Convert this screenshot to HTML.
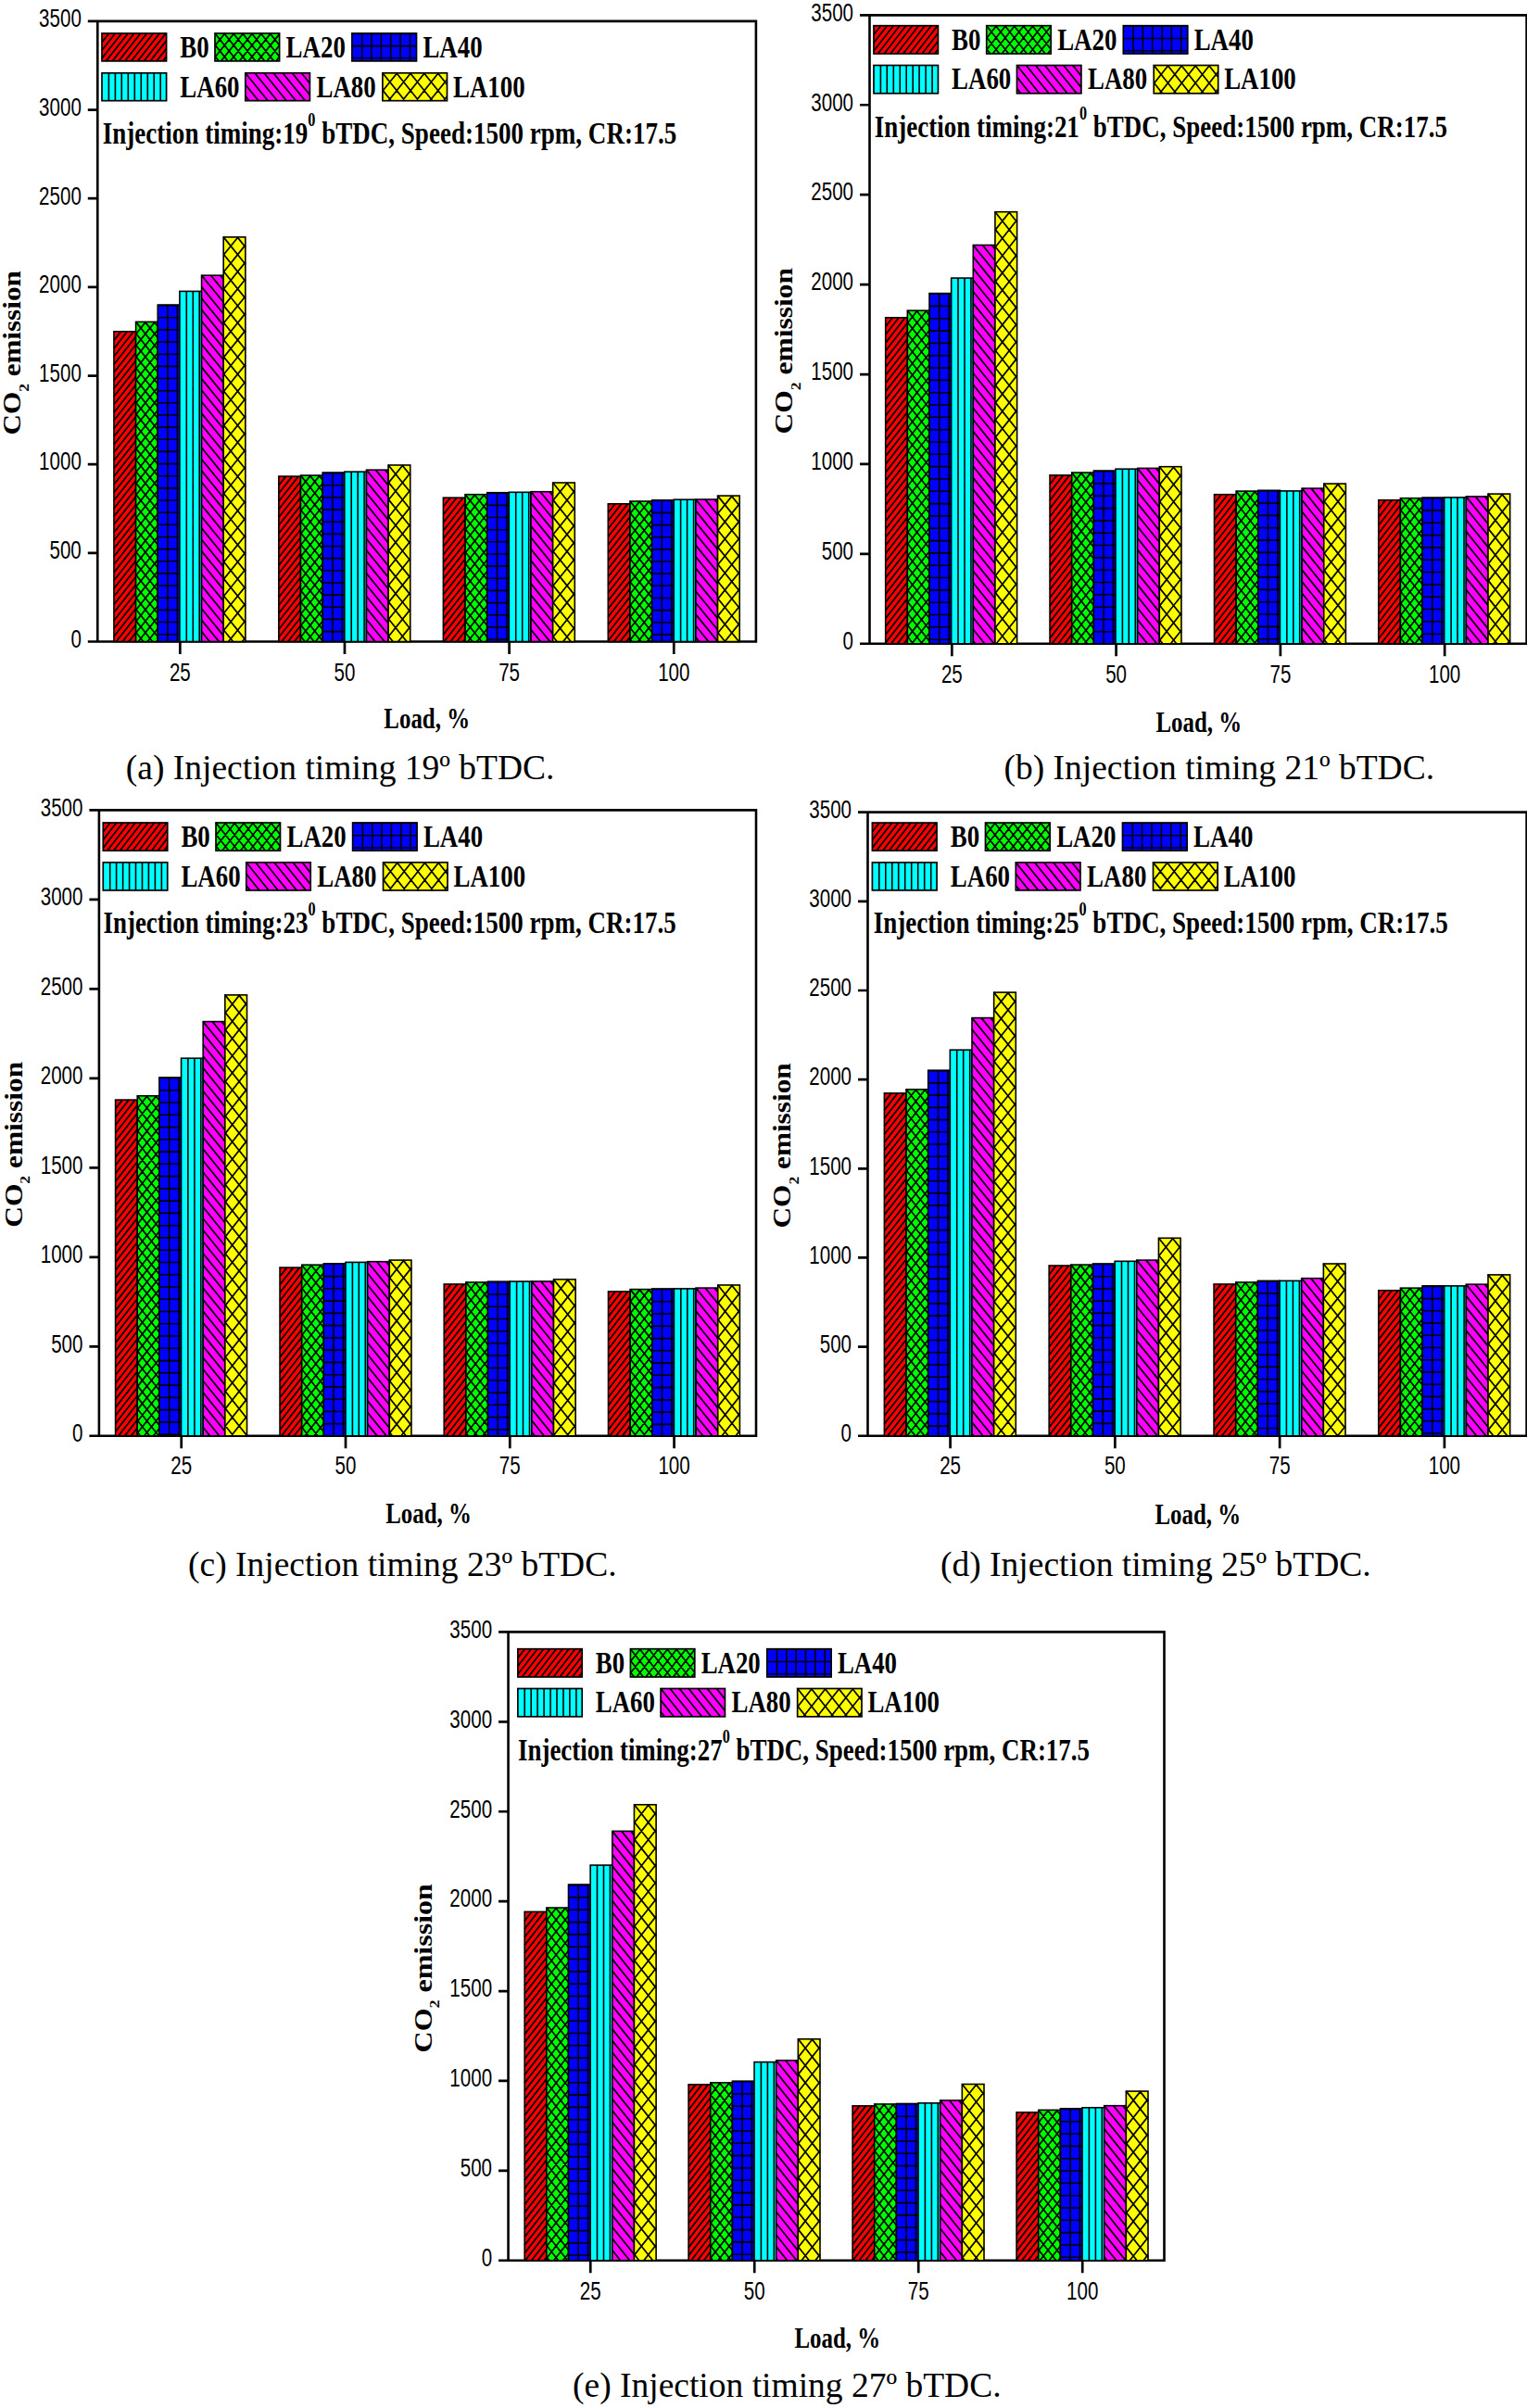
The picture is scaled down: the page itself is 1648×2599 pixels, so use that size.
<!DOCTYPE html>
<html lang="en">
<head>
<meta charset="utf-8">
<title>CO2 emission vs load at different injection timings</title>
<style>
html,body{margin:0;padding:0;background:#fff;}
body{width:1648px;height:2599px;overflow:hidden;}
svg{display:block;}
text{fill:#000;}
.tk{font-family:"Liberation Sans",sans-serif;font-weight:normal;}
.sb{font-family:"Liberation Serif",serif;font-weight:bold;}
.cp{font-family:"Liberation Serif",serif;font-weight:normal;}
.m{text-anchor:middle;}
.e{text-anchor:end;}
</style>
</head>
<body>
<svg width="1648" height="2599" viewBox="0 0 1648 2599">
<rect width="1648" height="2599" fill="#fff"/>
<g id="panel-a">
<path d="M94.8,22.9 H815.9 V692.5 H94.8 M105.3,21.6 V693.8" fill="none" stroke="#000" stroke-width="2.6"/>
<text class="tk e" transform="translate(87.8,698.8) scale(0.721,1)" font-size="28.5">0</text>
<text class="tk e" transform="translate(87.8,603.14) scale(0.721,1)" font-size="28.5">500</text>
<text class="tk e" transform="translate(87.8,507.49) scale(0.721,1)" font-size="28.5">1000</text>
<text class="tk e" transform="translate(87.8,411.83) scale(0.721,1)" font-size="28.5">1500</text>
<text class="tk e" transform="translate(87.8,316.17) scale(0.721,1)" font-size="28.5">2000</text>
<text class="tk e" transform="translate(87.8,220.51) scale(0.721,1)" font-size="28.5">2500</text>
<text class="tk e" transform="translate(87.8,124.86) scale(0.721,1)" font-size="28.5">3000</text>
<text class="tk e" transform="translate(87.8,29.2) scale(0.721,1)" font-size="28.5">3500</text>
<text class="tk m" transform="translate(194.32,735) scale(0.721,1)" font-size="28.5">25</text>
<text class="tk m" transform="translate(371.98,735) scale(0.721,1)" font-size="28.5">50</text>
<text class="tk m" transform="translate(549.62,735) scale(0.721,1)" font-size="28.5">75</text>
<text class="tk m" transform="translate(727.27,735) scale(0.721,1)" font-size="28.5">100</text>
<path d="M94.8,596.84 H105.3 M94.8,501.19 H105.3 M94.8,405.53 H105.3 M94.8,309.87 H105.3 M94.8,214.21 H105.3 M94.8,118.56 H105.3 M194.32,692.5 V705.9 M371.98,692.5 V705.9 M549.62,692.5 V705.9 M727.27,692.5 V705.9" fill="none" stroke="#000" stroke-width="2.7"/>
<rect x="122.95" y="357.8" width="23.65" height="334.7" fill="#ff0000"/><path d="M123,358.8L123.7,357.8M123,367.4L130.6,357.8M123,376.1L137.4,357.8M123,384.7L144.2,357.8M123,393.3L146.6,363.4M123,402L146.6,372M123,410.6L146.6,380.7M123,419.3L146.6,389.3M123,427.9L146.6,397.9M123,436.5L146.6,406.6M123,445.2L146.6,415.2M123,453.8L146.6,423.8M123,462.4L146.6,432.5M123,471.1L146.6,441.1M123,479.7L146.6,449.8M123,488.3L146.6,458.4M123,497L146.6,467M123,505.6L146.6,475.7M123,514.2L146.6,484.3M123,522.9L146.6,492.9M123,531.5L146.6,501.6M123,540.1L146.6,510.2M123,548.8L146.6,518.8M123,557.4L146.6,527.5M123,566L146.6,536.1M123,574.7L146.6,544.7M123,583.3L146.6,553.4M123,592L146.6,562M123,600.6L146.6,570.6M123,609.2L146.6,579.3M123,617.9L146.6,587.9M123,626.5L146.6,596.5M123,635.1L146.6,605.2M123,643.8L146.6,613.8M123,652.4L146.6,622.5M123,661L146.6,631.1M123,669.7L146.6,639.7M123,678.3L146.6,648.4M123,686.9L146.6,657M125.4,692.5L146.6,665.6M132.2,692.5L146.6,674.3M139,692.5L146.6,682.9M145.8,692.5L146.6,691.5" stroke="#000" stroke-width="1.8" fill="none"/><rect x="122.95" y="357.8" width="23.65" height="334.7" fill="none" stroke="#000" stroke-width="1.6"/>
<rect x="146.6" y="347.4" width="23.65" height="345.1" fill="#00ff00"/><path d="M146.6,348.4L147.4,347.4M146.6,360.8L157.3,347.4M146.6,373.2L167.2,347.4M146.6,385.6L170.3,356M146.6,398L170.3,368.4M146.6,410.4L170.3,380.8M146.6,422.8L170.3,393.2M146.6,435.2L170.3,405.6M146.6,447.6L170.3,418M146.6,460L170.3,430.4M146.6,472.5L170.3,442.8M146.6,484.9L170.3,455.2M146.6,497.3L170.3,467.6M146.6,509.7L170.3,480M146.6,522.1L170.3,492.4M146.6,534.5L170.3,504.8M146.6,546.9L170.3,517.2M146.6,559.3L170.3,529.7M146.6,571.7L170.3,542.1M146.6,584.1L170.3,554.5M146.6,596.5L170.3,566.9M146.6,608.9L170.3,579.3M146.6,621.3L170.3,591.7M146.6,633.7L170.3,604.1M146.6,646.1L170.3,616.5M146.6,658.5L170.3,628.9M146.6,670.9L170.3,641.3M146.6,683.3L170.3,653.7M149.2,692.5L170.3,666.1M159.1,692.5L170.3,678.5M169,692.5L170.3,690.9M166.4,347.4L170.3,352.2M156.5,347.4L170.3,364.6M146.6,347.4L170.3,377M146.6,359.8L170.3,389.4M146.6,372.2L170.3,401.8M146.6,384.6L170.3,414.2M146.6,397L170.3,426.7M146.6,409.4L170.3,439.1M146.6,421.8L170.3,451.5M146.6,434.2L170.3,463.9M146.6,446.6L170.3,476.3M146.6,459L170.3,488.7M146.6,471.4L170.3,501.1M146.6,483.9L170.3,513.5M146.6,496.3L170.3,525.9M146.6,508.7L170.3,538.3M146.6,521.1L170.3,550.7M146.6,533.5L170.3,563.1M146.6,545.9L170.3,575.5M146.6,558.3L170.3,587.9M146.6,570.7L170.3,600.3M146.6,583.1L170.3,612.7M146.6,595.5L170.3,625.1M146.6,607.9L170.3,637.5M146.6,620.3L170.3,649.9M146.6,632.7L170.3,662.3M146.6,645.1L170.3,674.8M146.6,657.5L170.3,687.2M146.6,669.9L164.6,692.5M146.6,682.3L154.7,692.5" stroke="#000" stroke-width="1.7" fill="none"/><rect x="146.6" y="347.4" width="23.65" height="345.1" fill="none" stroke="#000" stroke-width="1.6"/>
<rect x="170.25" y="329.1" width="23.65" height="363.4" fill="#0000ff"/><path d="M181,329.1V692.5M191.4,329.1V692.5M170.2,329.6H193.9M170.2,342.8H193.9M170.2,355.9H193.9M170.2,369.1H193.9M170.2,382.2H193.9M170.2,395.4H193.9M170.2,408.5H193.9M170.2,421.7H193.9M170.2,434.8H193.9M170.2,448H193.9M170.2,461.1H193.9M170.2,474.2H193.9M170.2,487.4H193.9M170.2,500.6H193.9M170.2,513.7H193.9M170.2,526.9H193.9M170.2,540H193.9M170.2,553.2H193.9M170.2,566.3H193.9M170.2,579.5H193.9M170.2,592.6H193.9M170.2,605.8H193.9M170.2,618.9H193.9M170.2,632H193.9M170.2,645.2H193.9M170.2,658.4H193.9M170.2,671.5H193.9M170.2,684.7H193.9" stroke="#000" stroke-width="1.6" fill="none"/><rect x="170.25" y="329.1" width="23.65" height="363.4" fill="none" stroke="#000" stroke-width="1.6"/>
<rect x="193.9" y="314.4" width="23.65" height="378.1" fill="#00ffff"/><path d="M201.3,314.4V692.5M208.3,314.4V692.5M215.2,314.4V692.5" stroke="#000" stroke-width="1.6" fill="none"/><rect x="193.9" y="314.4" width="23.65" height="378.1" fill="none" stroke="#000" stroke-width="1.6"/>
<rect x="217.55" y="297.2" width="23.65" height="395.3" fill="#ff00ff"/><path d="M237.7,297.2L241.2,301.5M227.6,297.2L241.2,313.9M217.6,297.2L241.2,326.3M217.6,309.6L241.2,338.7M217.6,322L241.2,351.1M217.6,334.4L241.2,363.5M217.6,346.8L241.2,375.9M217.6,359.2L241.2,388.3M217.6,371.6L241.2,400.7M217.6,384L241.2,413.1M217.6,396.4L241.2,425.6M217.6,408.9L241.2,438M217.6,421.3L241.2,450.4M217.6,433.7L241.2,462.8M217.6,446.1L241.2,475.2M217.6,458.5L241.2,487.6M217.6,470.9L241.2,500M217.6,483.3L241.2,512.4M217.6,495.7L241.2,524.8M217.6,508.1L241.2,537.2M217.6,520.5L241.2,549.6M217.6,532.9L241.2,562M217.6,545.3L241.2,574.4M217.6,557.7L241.2,586.8M217.6,570.1L241.2,599.2M217.6,582.5L241.2,611.6M217.6,594.9L241.2,624M217.6,607.3L241.2,636.4M217.6,619.7L241.2,648.8M217.6,632.1L241.2,661.2M217.6,644.5L241.2,673.7M217.6,657L241.2,686.1M217.6,669.4L236.4,692.5M217.6,681.8L226.3,692.5" stroke="#000" stroke-width="1.8" fill="none"/><rect x="217.55" y="297.2" width="23.65" height="395.3" fill="none" stroke="#000" stroke-width="1.6"/>
<rect x="241.2" y="255.9" width="23.65" height="436.6" fill="#ffff00"/><path d="M241.2,256.9L242,255.9M241.2,275.3L256.9,255.9M241.2,293.7L264.9,264.4M241.2,312.2L264.9,282.9M241.2,330.6L264.9,301.3M241.2,349L264.9,319.7M241.2,367.4L264.9,338.1M241.2,385.9L264.9,356.6M241.2,404.3L264.9,375M241.2,422.7L264.9,393.4M241.2,441.1L264.9,411.8M241.2,459.6L264.9,430.3M241.2,478L264.9,448.7M241.2,496.4L264.9,467.1M241.2,514.8L264.9,485.5M241.2,533.3L264.9,504M241.2,551.7L264.9,522.4M241.2,570.1L264.9,540.8M241.2,588.5L264.9,559.2M241.2,607L264.9,577.7M241.2,625.4L264.9,596.1M241.2,643.8L264.9,614.5M241.2,662.2L264.9,632.9M241.2,680.7L264.9,651.4M246.5,692.5L264.9,669.8M261.4,692.5L264.9,688.2M256.1,255.9L264.9,266.8M241.2,255.9L264.9,285.2M241.2,274.3L264.9,303.6M241.2,292.8L264.9,322.1M241.2,311.2L264.9,340.5M241.2,329.6L264.9,358.9M241.2,348L264.9,377.3M241.2,366.5L264.9,395.8M241.2,384.9L264.9,414.2M241.2,403.3L264.9,432.6M241.2,421.7L264.9,451M241.2,440.2L264.9,469.5M241.2,458.6L264.9,487.9M241.2,477L264.9,506.3M241.2,495.4L264.9,524.7M241.2,513.9L264.9,543.2M241.2,532.3L264.9,561.6M241.2,550.7L264.9,580M241.2,569.1L264.9,598.4M241.2,587.6L264.9,616.9M241.2,606L264.9,635.3M241.2,624.4L264.9,653.7M241.2,642.8L264.9,672.1M241.2,661.3L264.9,690.6M241.2,679.7L251.5,692.5" stroke="#000" stroke-width="1.7" fill="none"/><rect x="241.2" y="255.9" width="23.65" height="436.6" fill="none" stroke="#000" stroke-width="1.6"/>
<rect x="300.85" y="514.1" width="23.65" height="178.4" fill="#ff0000"/><path d="M300.9,515.1L301.6,514.1M300.9,523.7L308.5,514.1M300.9,532.4L315.3,514.1M300.9,541L322.1,514.1M300.9,549.6L324.5,519.7M300.9,558.3L324.5,528.3M300.9,566.9L324.5,537M300.9,575.6L324.5,545.6M300.9,584.2L324.5,554.2M300.9,592.8L324.5,562.9M300.9,601.5L324.5,571.5M300.9,610.1L324.5,580.1M300.9,618.7L324.5,588.8M300.9,627.4L324.5,597.4M300.9,636L324.5,606.1M300.9,644.6L324.5,614.7M300.9,653.3L324.5,623.3M300.9,661.9L324.5,632M300.9,670.5L324.5,640.6M300.9,679.2L324.5,649.2M300.9,687.8L324.5,657.9M304,692.5L324.5,666.5M310.8,692.5L324.5,675.1M317.6,692.5L324.5,683.8M324.4,692.5L324.5,692.4" stroke="#000" stroke-width="1.8" fill="none"/><rect x="300.85" y="514.1" width="23.65" height="178.4" fill="none" stroke="#000" stroke-width="1.6"/>
<rect x="324.5" y="513.1" width="23.65" height="179.4" fill="#00ff00"/><path d="M324.5,514.1L325.3,513.1M324.5,526.5L335.2,513.1M324.5,538.9L345.1,513.1M324.5,551.3L348.1,521.7M324.5,563.7L348.1,534.1M324.5,576.1L348.1,546.5M324.5,588.5L348.1,558.9M324.5,600.9L348.1,571.3M324.5,613.3L348.1,583.7M324.5,625.7L348.1,596.1M324.5,638.2L348.1,608.5M324.5,650.6L348.1,620.9M324.5,663L348.1,633.3M324.5,675.4L348.1,645.7M324.5,687.8L348.1,658.1M330.6,692.5L348.1,670.5M340.5,692.5L348.1,682.9M344.3,513.1L348.1,517.9M334.4,513.1L348.1,530.3M324.5,513.1L348.1,542.7M324.5,525.5L348.1,555.1M324.5,537.9L348.1,567.5M324.5,550.3L348.1,579.9M324.5,562.7L348.1,592.4M324.5,575.1L348.1,604.8M324.5,587.5L348.1,617.2M324.5,599.9L348.1,629.6M324.5,612.3L348.1,642M324.5,624.7L348.1,654.4M324.5,637.1L348.1,666.8M324.5,649.6L348.1,679.2M324.5,662L348.1,691.6M324.5,674.4L339,692.5M324.5,686.8L329.1,692.5" stroke="#000" stroke-width="1.7" fill="none"/><rect x="324.5" y="513.1" width="23.65" height="179.4" fill="none" stroke="#000" stroke-width="1.6"/>
<rect x="348.15" y="510.1" width="23.65" height="182.4" fill="#0000ff"/><path d="M358.9,510.1V692.5M369.3,510.1V692.5M348.2,510.6H371.8M348.2,523.8H371.8M348.2,536.9H371.8M348.2,550.1H371.8M348.2,563.2H371.8M348.2,576.4H371.8M348.2,589.5H371.8M348.2,602.6H371.8M348.2,615.8H371.8M348.2,629H371.8M348.2,642.1H371.8M348.2,655.2H371.8M348.2,668.4H371.8M348.2,681.6H371.8" stroke="#000" stroke-width="1.6" fill="none"/><rect x="348.15" y="510.1" width="23.65" height="182.4" fill="none" stroke="#000" stroke-width="1.6"/>
<rect x="371.8" y="509.2" width="23.65" height="183.3" fill="#00ffff"/><path d="M379.2,509.2V692.5M386.2,509.2V692.5M393.1,509.2V692.5" stroke="#000" stroke-width="1.6" fill="none"/><rect x="371.8" y="509.2" width="23.65" height="183.3" fill="none" stroke="#000" stroke-width="1.6"/>
<rect x="395.45" y="507.2" width="23.65" height="185.3" fill="#ff00ff"/><path d="M415.6,507.2L419.1,511.5M405.5,507.2L419.1,523.9M395.5,507.2L419.1,536.3M395.5,519.6L419.1,548.7M395.5,532L419.1,561.1M395.5,544.4L419.1,573.5M395.5,556.8L419.1,585.9M395.5,569.2L419.1,598.3M395.5,581.6L419.1,610.7M395.5,594L419.1,623.1M395.5,606.4L419.1,635.6M395.5,618.9L419.1,648M395.5,631.3L419.1,660.4M395.5,643.7L419.1,672.8M395.5,656.1L419.1,685.2M395.5,668.5L415,692.5M395.5,680.9L404.9,692.5" stroke="#000" stroke-width="1.8" fill="none"/><rect x="395.45" y="507.2" width="23.65" height="185.3" fill="none" stroke="#000" stroke-width="1.6"/>
<rect x="419.1" y="502" width="23.65" height="190.5" fill="#ffff00"/><path d="M419.1,503L419.9,502M419.1,521.4L434.8,502M419.1,539.8L442.8,510.5M419.1,558.3L442.8,529M419.1,576.7L442.8,547.4M419.1,595.1L442.8,565.8M419.1,613.5L442.8,584.2M419.1,632L442.8,602.7M419.1,650.4L442.8,621.1M419.1,668.8L442.8,639.5M419.1,687.2L442.8,657.9M429.7,692.5L442.8,676.4M434,502L442.8,512.9M419.1,502L442.8,531.3M419.1,520.4L442.8,549.7M419.1,538.9L442.8,568.2M419.1,557.3L442.8,586.6M419.1,575.7L442.8,605M419.1,594.1L442.8,623.4M419.1,612.6L442.8,641.9M419.1,631L442.8,660.3M419.1,649.4L442.8,678.7M419.1,667.8L439,692.5M419.1,686.3L424.1,692.5" stroke="#000" stroke-width="1.7" fill="none"/><rect x="419.1" y="502" width="23.65" height="190.5" fill="none" stroke="#000" stroke-width="1.6"/>
<rect x="478.4" y="537.2" width="23.65" height="155.3" fill="#ff0000"/><path d="M478.4,538.2L479.2,537.2M478.4,546.8L486,537.2M478.4,555.5L492.8,537.2M478.4,564.1L499.7,537.2M478.4,572.7L502.1,542.8M478.4,581.4L502.1,551.4M478.4,590L502.1,560.1M478.4,598.7L502.1,568.7M478.4,607.3L502.1,577.3M478.4,615.9L502.1,586M478.4,624.6L502.1,594.6M478.4,633.2L502.1,603.2M478.4,641.8L502.1,611.9M478.4,650.5L502.1,620.5M478.4,659.1L502.1,629.2M478.4,667.7L502.1,637.8M478.4,676.4L502.1,646.4M478.4,685L502.1,655.1M479.3,692.5L502.1,663.7M486.1,692.5L502.1,672.3M492.9,692.5L502.1,681M499.8,692.5L502.1,689.6" stroke="#000" stroke-width="1.8" fill="none"/><rect x="478.4" y="537.2" width="23.65" height="155.3" fill="none" stroke="#000" stroke-width="1.6"/>
<rect x="502.05" y="533.7" width="23.65" height="158.8" fill="#00ff00"/><path d="M502.1,534.7L502.8,533.7M502.1,547.1L512.7,533.7M502.1,559.5L522.6,533.7M502.1,571.9L525.7,542.3M502.1,584.3L525.7,554.7M502.1,596.7L525.7,567.1M502.1,609.1L525.7,579.5M502.1,621.5L525.7,591.9M502.1,633.9L525.7,604.3M502.1,646.3L525.7,616.7M502.1,658.8L525.7,629.1M502.1,671.2L525.7,641.5M502.1,683.6L525.7,653.9M504.8,692.5L525.7,666.3M514.7,692.5L525.7,678.7M524.6,692.5L525.7,691.1M521.9,533.7L525.7,538.5M512,533.7L525.7,550.9M502.1,533.7L525.7,563.3M502.1,546.1L525.7,575.7M502.1,558.5L525.7,588.1M502.1,570.9L525.7,600.5M502.1,583.3L525.7,613M502.1,595.7L525.7,625.4M502.1,608.1L525.7,637.8M502.1,620.5L525.7,650.2M502.1,632.9L525.7,662.6M502.1,645.3L525.7,675M502.1,657.7L525.7,687.4M502.1,670.2L519.9,692.5M502.1,682.6L510,692.5" stroke="#000" stroke-width="1.7" fill="none"/><rect x="502.05" y="533.7" width="23.65" height="158.8" fill="none" stroke="#000" stroke-width="1.6"/>
<rect x="525.7" y="531.7" width="23.65" height="160.8" fill="#0000ff"/><path d="M536.5,531.7V692.5M546.8,531.7V692.5M525.7,532.2H549.4M525.7,545.4H549.4M525.7,558.5H549.4M525.7,571.7H549.4M525.7,584.8H549.4M525.7,598H549.4M525.7,611.1H549.4M525.7,624.2H549.4M525.7,637.4H549.4M525.7,650.6H549.4M525.7,663.7H549.4M525.7,676.9H549.4M525.7,690H549.4" stroke="#000" stroke-width="1.6" fill="none"/><rect x="525.7" y="531.7" width="23.65" height="160.8" fill="none" stroke="#000" stroke-width="1.6"/>
<rect x="549.35" y="531.3" width="23.65" height="161.2" fill="#00ffff"/><path d="M556.7,531.3V692.5M563.7,531.3V692.5M570.7,531.3V692.5" stroke="#000" stroke-width="1.6" fill="none"/><rect x="549.35" y="531.3" width="23.65" height="161.2" fill="none" stroke="#000" stroke-width="1.6"/>
<rect x="573" y="530.7" width="23.65" height="161.8" fill="#ff00ff"/><path d="M593.2,530.7L596.6,535M583.1,530.7L596.6,547.4M573,530.7L596.6,559.8M573,543.1L596.6,572.2M573,555.5L596.6,584.6M573,567.9L596.6,597M573,580.3L596.6,609.4M573,592.7L596.6,621.8M573,605.1L596.6,634.2M573,617.5L596.6,646.6M573,629.9L596.6,659.1M573,642.4L596.6,671.5M573,654.8L596.6,683.9M573,667.2L593.6,692.5M573,679.6L583.5,692.5M573,692L573.4,692.5" stroke="#000" stroke-width="1.8" fill="none"/><rect x="573" y="530.7" width="23.65" height="161.8" fill="none" stroke="#000" stroke-width="1.6"/>
<rect x="596.65" y="521" width="23.65" height="171.5" fill="#ffff00"/><path d="M596.7,522L597.5,521M596.7,540.4L612.3,521M596.7,558.8L620.3,529.5M596.7,577.3L620.3,548M596.7,595.7L620.3,566.4M596.7,614.1L620.3,584.8M596.7,632.5L620.3,603.2M596.7,651L620.3,621.7M596.7,669.4L620.3,640.1M596.7,687.8L620.3,658.5M607.7,692.5L620.3,676.9M611.5,521L620.3,531.9M596.7,521L620.3,550.3M596.7,539.4L620.3,568.7M596.7,557.9L620.3,587.2M596.7,576.3L620.3,605.6M596.7,594.7L620.3,624M596.7,613.1L620.3,642.4M596.7,631.6L620.3,660.9M596.7,650L620.3,679.3M596.7,668.4L616.1,692.5M596.7,686.8L601.2,692.5" stroke="#000" stroke-width="1.7" fill="none"/><rect x="596.65" y="521" width="23.65" height="171.5" fill="none" stroke="#000" stroke-width="1.6"/>
<rect x="656.3" y="543.8" width="23.65" height="148.7" fill="#ff0000"/><path d="M656.3,544.8L657.1,543.8M656.3,553.4L663.9,543.8M656.3,562.1L670.7,543.8M656.3,570.7L677.6,543.8M656.3,579.3L679.9,549.4M656.3,588L679.9,558M656.3,596.6L679.9,566.7M656.3,605.3L679.9,575.3M656.3,613.9L679.9,583.9M656.3,622.5L679.9,592.6M656.3,631.2L679.9,601.2M656.3,639.8L679.9,609.8M656.3,648.4L679.9,618.5M656.3,657.1L679.9,627.1M656.3,665.7L679.9,635.8M656.3,674.3L679.9,644.4M656.3,683L679.9,653M656.3,691.6L679.9,661.7M662.4,692.5L679.9,670.3M669.2,692.5L679.9,678.9M676.1,692.5L679.9,687.6" stroke="#000" stroke-width="1.8" fill="none"/><rect x="656.3" y="543.8" width="23.65" height="148.7" fill="none" stroke="#000" stroke-width="1.6"/>
<rect x="679.95" y="541" width="23.65" height="151.5" fill="#00ff00"/><path d="M679.9,542L680.7,541M679.9,554.4L690.6,541M679.9,566.8L700.5,541M679.9,579.2L703.6,549.6M679.9,591.6L703.6,562M679.9,604L703.6,574.4M679.9,616.4L703.6,586.8M679.9,628.8L703.6,599.2M679.9,641.2L703.6,611.6M679.9,653.6L703.6,624M679.9,666.1L703.6,636.4M679.9,678.5L703.6,648.8M679.9,690.9L703.6,661.2M688.5,692.5L703.6,673.6M698.4,692.5L703.6,686M699.8,541L703.6,545.8M689.9,541L703.6,558.2M680,541L703.6,570.6M679.9,553.4L703.6,583M679.9,565.8L703.6,595.4M679.9,578.2L703.6,607.8M679.9,590.6L703.6,620.3M679.9,603L703.6,632.7M679.9,615.4L703.6,645.1M679.9,627.8L703.6,657.5M679.9,640.2L703.6,669.9M679.9,652.6L703.6,682.3M679.9,665L701.9,692.5M679.9,677.5L692,692.5M679.9,689.9L682.1,692.5" stroke="#000" stroke-width="1.7" fill="none"/><rect x="679.95" y="541" width="23.65" height="151.5" fill="none" stroke="#000" stroke-width="1.6"/>
<rect x="703.6" y="539.8" width="23.65" height="152.7" fill="#0000ff"/><path d="M714.4,539.8V692.5M724.7,539.8V692.5M703.6,540.3H727.2M703.6,553.4H727.2M703.6,566.6H727.2M703.6,579.8H727.2M703.6,592.9H727.2M703.6,606H727.2M703.6,619.2H727.2M703.6,632.3H727.2M703.6,645.5H727.2M703.6,658.6H727.2M703.6,671.8H727.2M703.6,684.9H727.2" stroke="#000" stroke-width="1.6" fill="none"/><rect x="703.6" y="539.8" width="23.65" height="152.7" fill="none" stroke="#000" stroke-width="1.6"/>
<rect x="727.25" y="539.2" width="23.65" height="153.3" fill="#00ffff"/><path d="M734.6,539.2V692.5M741.6,539.2V692.5M748.6,539.2V692.5" stroke="#000" stroke-width="1.6" fill="none"/><rect x="727.25" y="539.2" width="23.65" height="153.3" fill="none" stroke="#000" stroke-width="1.6"/>
<rect x="750.9" y="539" width="23.65" height="153.5" fill="#ff00ff"/><path d="M771.1,539L774.5,543.3M761,539L774.5,555.7M750.9,539L774.5,568.1M750.9,551.4L774.5,580.5M750.9,563.8L774.5,592.9M750.9,576.2L774.5,605.3M750.9,588.6L774.5,617.7M750.9,601L774.5,630.1M750.9,613.4L774.5,642.5M750.9,625.8L774.5,654.9M750.9,638.2L774.5,667.4M750.9,650.7L774.5,679.8M750.9,663.1L774.5,692.2M750.9,675.5L764.7,692.5M750.9,687.9L754.7,692.5" stroke="#000" stroke-width="1.8" fill="none"/><rect x="750.9" y="539" width="23.65" height="153.5" fill="none" stroke="#000" stroke-width="1.6"/>
<rect x="774.55" y="535.1" width="23.65" height="157.4" fill="#ffff00"/><path d="M774.5,536.1L775.4,535.1M774.5,554.5L790.2,535.1M774.5,572.9L798.2,543.6M774.5,591.4L798.2,562.1M774.5,609.8L798.2,580.5M774.5,628.2L798.2,598.9M774.5,646.6L798.2,617.3M774.5,665.1L798.2,635.8M774.5,683.5L798.2,654.2M782.2,692.5L798.2,672.6M797,692.5L798.2,691M789.4,535.1L798.2,546M774.5,535.1L798.2,564.4M774.5,553.5L798.2,582.8M774.5,572L798.2,601.3M774.5,590.4L798.2,619.7M774.5,608.8L798.2,638.1M774.5,627.2L798.2,656.5M774.5,645.7L798.2,675M774.5,664.1L797.5,692.5M774.5,682.5L782.6,692.5" stroke="#000" stroke-width="1.7" fill="none"/><rect x="774.55" y="535.1" width="23.65" height="157.4" fill="none" stroke="#000" stroke-width="1.6"/>
<rect x="110" y="36" width="69.6" height="29.9" fill="#ff0000"/><path d="M110,37L110.8,36M110,45.6L117.6,36M110,54.3L124.4,36M110,62.9L131.3,36M114.5,65.9L138.1,36M121.3,65.9L144.9,36M128.1,65.9L151.7,36M134.9,65.9L158.5,36M141.7,65.9L165.4,36M148.6,65.9L172.2,36M155.4,65.9L179,36M162.2,65.9L179.6,43.9M169,65.9L179.6,52.5M175.8,65.9L179.6,61.1" stroke="#000" stroke-width="1.8" fill="none"/><rect x="110" y="36" width="69.6" height="29.9" fill="none" stroke="#000" stroke-width="1.7"/>
<text class="sb" transform="translate(194.3,62.3) scale(0.78,1)" font-size="34.5">B0</text>
<rect x="232" y="36" width="69.6" height="29.9" fill="#00ff00"/><path d="M232,37L232.8,36M232,49.4L242.7,36M232,61.8L252.6,36M238.6,65.9L262.5,36M248.5,65.9L272.4,36M258.4,65.9L282.3,36M268.3,65.9L292.2,36M278.2,65.9L301.6,36.6M288.1,65.9L301.6,49M298,65.9L301.6,61.4M301.3,36L301.6,36.4M291.4,36L301.6,48.8M281.5,36L301.6,61.2M271.6,36L295.5,65.9M261.7,36L285.6,65.9M251.8,36L275.7,65.9M241.9,36L265.8,65.9M232,36L255.9,65.9M232,48.4L246,65.9M232,60.8L236.1,65.9" stroke="#000" stroke-width="1.7" fill="none"/><rect x="232" y="36" width="69.6" height="29.9" fill="none" stroke="#000" stroke-width="1.7"/>
<text class="sb" transform="translate(308.6,62.3) scale(0.78,1)" font-size="34.5">LA20</text>
<rect x="379.9" y="36" width="69.6" height="29.9" fill="#0000ff"/><path d="M390.7,36V65.9M401,36V65.9M411.4,36V65.9M421.7,36V65.9M432.1,36V65.9M442.5,36V65.9M379.9,36.5H449.5M379.9,49.6H449.5M379.9,62.8H449.5" stroke="#000" stroke-width="1.6" fill="none"/><rect x="379.9" y="36" width="69.6" height="29.9" fill="none" stroke="#000" stroke-width="1.7"/>
<text class="sb" transform="translate(456.4,62.3) scale(0.78,1)" font-size="34.5">LA40</text>
<rect x="110" y="78.8" width="69.6" height="29.9" fill="#00ffff"/><path d="M117.4,78.8V108.7M124.4,78.8V108.7M131.3,78.8V108.7M138.3,78.8V108.7M145.3,78.8V108.7M152.3,78.8V108.7M159.3,78.8V108.7M166.2,78.8V108.7M173.2,78.8V108.7" stroke="#000" stroke-width="1.6" fill="none"/><rect x="110" y="78.8" width="69.6" height="29.9" fill="none" stroke="#000" stroke-width="1.7"/>
<text class="sb" transform="translate(194.3,104.6) scale(0.78,1)" font-size="34.5">LA60</text>
<rect x="264.8" y="78.8" width="69.6" height="29.9" fill="#ff00ff"/><path d="M325.3,78.8L334.4,90M315.2,78.8L334.4,102.4M305.1,78.8L329.4,108.7M295,78.8L319.3,108.7M285,78.8L309.2,108.7M274.9,78.8L299.2,108.7M264.8,78.8L289.1,108.7M264.8,91.2L279,108.7M264.8,103.6L268.9,108.7" stroke="#000" stroke-width="1.8" fill="none"/><rect x="264.8" y="78.8" width="69.6" height="29.9" fill="none" stroke="#000" stroke-width="1.7"/>
<text class="sb" transform="translate(341.5,104.6) scale(0.78,1)" font-size="34.5">LA80</text>
<rect x="412.9" y="78.8" width="69.6" height="29.9" fill="#ffff00"/><path d="M412.9,79.8L413.7,78.8M412.9,98.2L428.6,78.8M419.3,108.7L443.4,78.8M434.2,108.7L458.3,78.8M449.1,108.7L473.2,78.8M463.9,108.7L482.5,85.7M478.8,108.7L482.5,104.1M472.4,78.8L482.5,91.3M457.5,78.8L481.6,108.7M442.6,78.8L466.8,108.7M427.8,78.8L451.9,108.7M412.9,78.8L437,108.7M412.9,97.2L422.2,108.7" stroke="#000" stroke-width="1.7" fill="none"/><rect x="412.9" y="78.8" width="69.6" height="29.9" fill="none" stroke="#000" stroke-width="1.7"/>
<text class="sb" transform="translate(489,104.6) scale(0.78,1)" font-size="34.5">LA100</text>
<text class="sb" transform="translate(110.8,154.7) scale(0.784,1)" font-size="34.5">Injection timing:19<tspan font-size="20.7" dy="-18.8">0</tspan><tspan dy="18.8"> bTDC, Speed:1500 rpm, CR:17.5</tspan></text>
<text class="sb m" transform="translate(460.7,786) scale(0.804,1)" font-size="31">Load, %</text>
<text class="sb m" transform="translate(21.9,380.9) rotate(-90) scale(1.001,0.88)" font-size="31.1">CO<tspan font-size="17.42" dy="9.95">2</tspan><tspan dy="-9.95"> emission</tspan></text>
<text class="cp" transform="translate(135.8,841.1)" font-size="37.5">(a) Injection timing 19º bTDC.</text>
</g>
<g id="panel-b">
<path d="M928,16.35 H1647.6 V694.8 H928 M938.5,15.05 V696.1" fill="none" stroke="#000" stroke-width="2.6"/>
<text class="tk e" transform="translate(921,701.1) scale(0.721,1)" font-size="28.5">0</text>
<text class="tk e" transform="translate(921,604.18) scale(0.721,1)" font-size="28.5">500</text>
<text class="tk e" transform="translate(921,507.26) scale(0.721,1)" font-size="28.5">1000</text>
<text class="tk e" transform="translate(921,410.34) scale(0.721,1)" font-size="28.5">1500</text>
<text class="tk e" transform="translate(921,313.41) scale(0.721,1)" font-size="28.5">2000</text>
<text class="tk e" transform="translate(921,216.49) scale(0.721,1)" font-size="28.5">2500</text>
<text class="tk e" transform="translate(921,119.57) scale(0.721,1)" font-size="28.5">3000</text>
<text class="tk e" transform="translate(921,22.65) scale(0.721,1)" font-size="28.5">3500</text>
<text class="tk m" transform="translate(1027.34,736.5) scale(0.721,1)" font-size="28.5">25</text>
<text class="tk m" transform="translate(1204.61,736.5) scale(0.721,1)" font-size="28.5">50</text>
<text class="tk m" transform="translate(1381.89,736.5) scale(0.721,1)" font-size="28.5">75</text>
<text class="tk m" transform="translate(1559.16,736.5) scale(0.721,1)" font-size="28.5">100</text>
<path d="M928,597.88 H938.5 M928,500.96 H938.5 M928,404.04 H938.5 M928,307.11 H938.5 M928,210.19 H938.5 M928,113.27 H938.5 M1027.34,694.8 V708.2 M1204.61,694.8 V708.2 M1381.89,694.8 V708.2 M1559.16,694.8 V708.2" fill="none" stroke="#000" stroke-width="2.7"/>
<rect x="955.7" y="342.8" width="23.65" height="352" fill="#ff0000"/><path d="M955.7,343.8L956.5,342.8M955.7,352.6L963.3,342.8M955.7,361.3L970.1,342.8M955.7,370.1L976.9,342.8M955.7,378.8L979.4,348.4M955.7,387.6L979.4,357.2M955.7,396.3L979.4,365.9M955.7,405.1L979.4,374.7M955.7,413.8L979.4,383.4M955.7,422.6L979.4,392.2M955.7,431.3L979.4,400.9M955.7,440.1L979.4,409.7M955.7,448.8L979.4,418.4M955.7,457.6L979.4,427.1M955.7,466.3L979.4,435.9M955.7,475.1L979.4,444.6M955.7,483.8L979.4,453.4M955.7,492.5L979.4,462.1M955.7,501.3L979.4,470.9M955.7,510L979.4,479.6M955.7,518.8L979.4,488.4M955.7,527.5L979.4,497.1M955.7,536.3L979.4,505.9M955.7,545L979.4,514.6M955.7,553.8L979.4,523.4M955.7,562.5L979.4,532.1M955.7,571.3L979.4,540.9M955.7,580L979.4,549.6M955.7,588.8L979.4,558.4M955.7,597.5L979.4,567.1M955.7,606.3L979.4,575.9M955.7,615L979.4,584.6M955.7,623.8L979.4,593.4M955.7,632.5L979.4,602.1M955.7,641.3L979.4,610.9M955.7,650L979.4,619.6M955.7,658.8L979.4,628.4M955.7,667.5L979.4,637.1M955.7,676.3L979.4,645.9M955.7,685L979.4,654.6M955.7,693.8L979.4,663.4M961.7,694.8L979.4,672.1M968.5,694.8L979.4,680.9M975.3,694.8L979.4,689.6" stroke="#000" stroke-width="1.8" fill="none"/><rect x="955.7" y="342.8" width="23.65" height="352" fill="none" stroke="#000" stroke-width="1.6"/>
<rect x="979.35" y="335.2" width="23.65" height="359.6" fill="#00ff00"/><path d="M979.4,336.2L980.1,335.2M979.4,348.8L990,335.2M979.4,361.3L999.9,335.2M979.4,373.9L1003,343.8M979.4,386.5L1003,356.4M979.4,399.1L1003,369M979.4,411.6L1003,381.5M979.4,424.2L1003,394.1M979.4,436.8L1003,406.7M979.4,449.3L1003,419.2M979.4,461.9L1003,431.8M979.4,474.5L1003,444.4M979.4,487L1003,456.9M979.4,499.6L1003,469.5M979.4,512.2L1003,482.1M979.4,524.7L1003,494.7M979.4,537.3L1003,507.2M979.4,549.9L1003,519.8M979.4,562.5L1003,532.4M979.4,575L1003,544.9M979.4,587.6L1003,557.5M979.4,600.2L1003,570.1M979.4,612.7L1003,582.6M979.4,625.3L1003,595.2M979.4,637.9L1003,607.8M979.4,650.4L1003,620.3M979.4,663L1003,632.9M979.4,675.6L1003,645.5M979.4,688.1L1003,658.1M984,694.8L1003,670.6M993.9,694.8L1003,683.2M999.1,335.2L1003,340.1M989.2,335.2L1003,352.7M979.4,335.2L1003,365.3M979.4,347.8L1003,377.8M979.4,360.3L1003,390.4M979.4,372.9L1003,403M979.4,385.5L1003,415.6M979.4,398L1003,428.1M979.4,410.6L1003,440.7M979.4,423.2L1003,453.3M979.4,435.7L1003,465.8M979.4,448.3L1003,478.4M979.4,460.9L1003,491M979.4,473.4L1003,503.5M979.4,486L1003,516.1M979.4,498.6L1003,528.7M979.4,511.2L1003,541.2M979.4,523.7L1003,553.8M979.4,536.3L1003,566.4M979.4,548.9L1003,579M979.4,561.4L1003,591.5M979.4,574L1003,604.1M979.4,586.6L1003,616.7M979.4,599.1L1003,629.2M979.4,611.7L1003,641.8M979.4,624.3L1003,654.4M979.4,636.8L1003,666.9M979.4,649.4L1003,679.5M979.4,662L1003,692.1M979.4,674.6L995.3,694.8M979.4,687.1L985.4,694.8" stroke="#000" stroke-width="1.7" fill="none"/><rect x="979.35" y="335.2" width="23.65" height="359.6" fill="none" stroke="#000" stroke-width="1.6"/>
<rect x="1003" y="316.6" width="23.65" height="378.2" fill="#0000ff"/><path d="M1013.7,316.6V694.8M1024.1,316.6V694.8M1003,317.1H1026.7M1003,330.4H1026.7M1003,343.7H1026.7M1003,357.1H1026.7M1003,370.4H1026.7M1003,383.7H1026.7M1003,397H1026.7M1003,410.4H1026.7M1003,423.7H1026.7M1003,437H1026.7M1003,450.3H1026.7M1003,463.7H1026.7M1003,477H1026.7M1003,490.3H1026.7M1003,503.6H1026.7M1003,517H1026.7M1003,530.3H1026.7M1003,543.6H1026.7M1003,556.9H1026.7M1003,570.3H1026.7M1003,583.6H1026.7M1003,596.9H1026.7M1003,610.2H1026.7M1003,623.5H1026.7M1003,636.9H1026.7M1003,650.2H1026.7M1003,663.5H1026.7M1003,676.8H1026.7M1003,690.2H1026.7" stroke="#000" stroke-width="1.6" fill="none"/><rect x="1003" y="316.6" width="23.65" height="378.2" fill="none" stroke="#000" stroke-width="1.6"/>
<rect x="1026.65" y="300.1" width="23.65" height="394.7" fill="#00ffff"/><path d="M1034,300.1V694.8M1041,300.1V694.8M1047.9,300.1V694.8" stroke="#000" stroke-width="1.6" fill="none"/><rect x="1026.65" y="300.1" width="23.65" height="394.7" fill="none" stroke="#000" stroke-width="1.6"/>
<rect x="1050.3" y="264.5" width="23.65" height="430.3" fill="#ff00ff"/><path d="M1070.4,264.5L1074,268.9M1060.4,264.5L1074,281.5M1050.3,264.5L1074,294.1M1050.3,277.1L1074,306.6M1050.3,289.6L1074,319.2M1050.3,302.2L1074,331.8M1050.3,314.8L1074,344.3M1050.3,327.3L1074,356.9M1050.3,339.9L1074,369.5M1050.3,352.5L1074,382M1050.3,365.1L1074,394.6M1050.3,377.6L1074,407.2M1050.3,390.2L1074,419.7M1050.3,402.8L1074,432.3M1050.3,415.3L1074,444.9M1050.3,427.9L1074,457.4M1050.3,440.5L1074,470M1050.3,453L1074,482.6M1050.3,465.6L1074,495.2M1050.3,478.2L1074,507.7M1050.3,490.7L1074,520.3M1050.3,503.3L1074,532.9M1050.3,515.9L1074,545.4M1050.3,528.4L1074,558M1050.3,541L1074,570.6M1050.3,553.6L1074,583.1M1050.3,566.2L1074,595.7M1050.3,578.7L1074,608.3M1050.3,591.3L1074,620.8M1050.3,603.9L1074,633.4M1050.3,616.4L1074,646M1050.3,629L1074,658.6M1050.3,641.6L1074,671.1M1050.3,654.1L1074,683.7M1050.3,666.7L1072.8,694.8M1050.3,679.3L1062.7,694.8M1050.3,691.8L1052.7,694.8" stroke="#000" stroke-width="1.8" fill="none"/><rect x="1050.3" y="264.5" width="23.65" height="430.3" fill="none" stroke="#000" stroke-width="1.6"/>
<rect x="1073.95" y="228.7" width="23.65" height="466.1" fill="#ffff00"/><path d="M1074,229.7L1074.7,228.7M1074,248.4L1089.6,228.7M1074,267L1097.6,237.3M1074,285.7L1097.6,256M1074,304.4L1097.6,274.6M1074,323L1097.6,293.3M1074,341.7L1097.6,312M1074,360.4L1097.6,330.6M1074,379.1L1097.6,349.3M1074,397.7L1097.6,368M1074,416.4L1097.6,386.6M1074,435.1L1097.6,405.3M1074,453.7L1097.6,424M1074,472.4L1097.6,442.6M1074,491.1L1097.6,461.3M1074,509.7L1097.6,480M1074,528.4L1097.6,498.6M1074,547.1L1097.6,517.3M1074,565.7L1097.6,536M1074,584.4L1097.6,554.7M1074,603.1L1097.6,573.3M1074,621.7L1097.6,592M1074,640.4L1097.6,610.7M1074,659.1L1097.6,629.3M1074,677.7L1097.6,648M1075.2,694.8L1097.6,666.7M1090.1,694.8L1097.6,685.3M1088.8,228.7L1097.6,239.8M1074,228.7L1097.6,258.5M1074,247.4L1097.6,277.1M1074,266L1097.6,295.8M1074,284.7L1097.6,314.5M1074,303.4L1097.6,333.1M1074,322L1097.6,351.8M1074,340.7L1097.6,370.5M1074,359.4L1097.6,389.1M1074,378L1097.6,407.8M1074,396.7L1097.6,426.5M1074,415.4L1097.6,445.1M1074,434.1L1097.6,463.8M1074,452.7L1097.6,482.5M1074,471.4L1097.6,501.1M1074,490.1L1097.6,519.8M1074,508.7L1097.6,538.5M1074,527.4L1097.6,557.1M1074,546.1L1097.6,575.8M1074,564.7L1097.6,594.5M1074,583.4L1097.6,613.2M1074,602.1L1097.6,631.8M1074,620.7L1097.6,650.5M1074,639.4L1097.6,669.2M1074,658.1L1097.6,687.8M1074,676.7L1088.3,694.8" stroke="#000" stroke-width="1.7" fill="none"/><rect x="1073.95" y="228.7" width="23.65" height="466.1" fill="none" stroke="#000" stroke-width="1.6"/>
<rect x="1133.05" y="512.9" width="23.65" height="181.9" fill="#ff0000"/><path d="M1133,513.9L1133.8,512.9M1133,522.7L1140.6,512.9M1133,531.4L1147.5,512.9M1133,540.2L1154.3,512.9M1133,548.9L1156.7,518.5M1133,557.7L1156.7,527.3M1133,566.4L1156.7,536M1133,575.2L1156.7,544.8M1133,583.9L1156.7,553.5M1133,592.7L1156.7,562.3M1133,601.4L1156.7,571M1133,610.2L1156.7,579.8M1133,618.9L1156.7,588.5M1133,627.7L1156.7,597.2M1133,636.4L1156.7,606M1133,645.2L1156.7,614.7M1133,653.9L1156.7,623.5M1133,662.6L1156.7,632.2M1133,671.4L1156.7,641M1133,680.1L1156.7,649.7M1133,688.9L1156.7,658.5M1135.3,694.8L1156.7,667.2M1142.1,694.8L1156.7,676M1148.9,694.8L1156.7,684.7M1155.7,694.8L1156.7,693.5" stroke="#000" stroke-width="1.8" fill="none"/><rect x="1133.05" y="512.9" width="23.65" height="181.9" fill="none" stroke="#000" stroke-width="1.6"/>
<rect x="1156.7" y="510.1" width="23.65" height="184.7" fill="#00ff00"/><path d="M1156.7,511.1L1157.5,510.1M1156.7,523.7L1167.4,510.1M1156.7,536.2L1177.3,510.1M1156.7,548.8L1180.4,518.7M1156.7,561.4L1180.4,531.3M1156.7,574L1180.4,543.9M1156.7,586.5L1180.4,556.4M1156.7,599.1L1180.4,569M1156.7,611.7L1180.4,581.6M1156.7,624.2L1180.4,594.1M1156.7,636.8L1180.4,606.7M1156.7,649.4L1180.4,619.3M1156.7,661.9L1180.4,631.8M1156.7,674.5L1180.4,644.4M1156.7,687.1L1180.4,657M1160.5,694.8L1180.4,669.6M1170.4,694.8L1180.4,682.1M1180.3,694.8L1180.4,694.7M1176.5,510.1L1180.4,515M1166.6,510.1L1180.4,527.6M1156.7,510.1L1180.4,540.2M1156.7,522.7L1180.4,552.7M1156.7,535.2L1180.4,565.3M1156.7,547.8L1180.4,577.9M1156.7,560.4L1180.4,590.5M1156.7,572.9L1180.4,603M1156.7,585.5L1180.4,615.6M1156.7,598.1L1180.4,628.2M1156.7,610.6L1180.4,640.7M1156.7,623.2L1180.4,653.3M1156.7,635.8L1180.4,665.9M1156.7,648.3L1180.4,678.4M1156.7,660.9L1180.4,691M1156.7,673.5L1173.5,694.8M1156.7,686.1L1163.6,694.8" stroke="#000" stroke-width="1.7" fill="none"/><rect x="1156.7" y="510.1" width="23.65" height="184.7" fill="none" stroke="#000" stroke-width="1.6"/>
<rect x="1180.35" y="508.1" width="23.65" height="186.7" fill="#0000ff"/><path d="M1191.1,508.1V694.8M1201.4,508.1V694.8M1180.3,508.6H1204M1180.3,521.9H1204M1180.3,535.2H1204M1180.3,548.6H1204M1180.3,561.9H1204M1180.3,575.2H1204M1180.3,588.5H1204M1180.3,601.9H1204M1180.3,615.2H1204M1180.3,628.5H1204M1180.3,641.8H1204M1180.3,655.2H1204M1180.3,668.5H1204M1180.3,681.8H1204" stroke="#000" stroke-width="1.6" fill="none"/><rect x="1180.35" y="508.1" width="23.65" height="186.7" fill="none" stroke="#000" stroke-width="1.6"/>
<rect x="1204" y="506.2" width="23.65" height="188.6" fill="#00ffff"/><path d="M1211.4,506.2V694.8M1218.3,506.2V694.8M1225.3,506.2V694.8" stroke="#000" stroke-width="1.6" fill="none"/><rect x="1204" y="506.2" width="23.65" height="188.6" fill="none" stroke="#000" stroke-width="1.6"/>
<rect x="1227.65" y="505.4" width="23.65" height="189.4" fill="#ff00ff"/><path d="M1247.8,505.4L1251.3,509.8M1237.7,505.4L1251.3,522.4M1227.6,505.4L1251.3,535M1227.6,518L1251.3,547.5M1227.6,530.5L1251.3,560.1M1227.6,543.1L1251.3,572.7M1227.6,555.7L1251.3,585.2M1227.6,568.2L1251.3,597.8M1227.6,580.8L1251.3,610.4M1227.6,593.4L1251.3,622.9M1227.6,606L1251.3,635.5M1227.6,618.5L1251.3,648.1M1227.6,631.1L1251.3,660.6M1227.6,643.7L1251.3,673.2M1227.6,656.2L1251.3,685.8M1227.6,668.8L1248.5,694.8M1227.6,681.4L1238.4,694.8M1227.6,693.9L1228.3,694.8" stroke="#000" stroke-width="1.8" fill="none"/><rect x="1227.65" y="505.4" width="23.65" height="189.4" fill="none" stroke="#000" stroke-width="1.6"/>
<rect x="1251.3" y="503.7" width="23.65" height="191.1" fill="#ffff00"/><path d="M1251.3,504.7L1252.1,503.7M1251.3,523.4L1266.9,503.7M1251.3,542L1275,512.3M1251.3,560.7L1275,531M1251.3,579.4L1275,549.6M1251.3,598L1275,568.3M1251.3,616.7L1275,587M1251.3,635.4L1275,605.6M1251.3,654.1L1275,624.3M1251.3,672.7L1275,643M1251.3,691.4L1275,661.6M1263.4,694.8L1275,680.3M1266.1,503.7L1275,514.8M1251.3,503.7L1275,533.5M1251.3,522.4L1275,552.1M1251.3,541L1275,570.8M1251.3,559.7L1275,589.5M1251.3,578.4L1275,608.1M1251.3,597L1275,626.8M1251.3,615.7L1275,645.5M1251.3,634.4L1275,664.1M1251.3,653L1275,682.8M1251.3,671.7L1269.7,694.8M1251.3,690.4L1254.8,694.8" stroke="#000" stroke-width="1.7" fill="none"/><rect x="1251.3" y="503.7" width="23.65" height="191.1" fill="none" stroke="#000" stroke-width="1.6"/>
<rect x="1310.5" y="533.7" width="23.65" height="161.1" fill="#ff0000"/><path d="M1310.5,534.7L1311.3,533.7M1310.5,543.5L1318.1,533.7M1310.5,552.2L1324.9,533.7M1310.5,561L1331.7,533.7M1310.5,569.7L1334.2,539.3M1310.5,578.5L1334.2,548.1M1310.5,587.2L1334.2,556.8M1310.5,596L1334.2,565.6M1310.5,604.7L1334.2,574.3M1310.5,613.5L1334.2,583.1M1310.5,622.2L1334.2,591.8M1310.5,631L1334.2,600.6M1310.5,639.7L1334.2,609.3M1310.5,648.5L1334.2,618M1310.5,657.2L1334.2,626.8M1310.5,666L1334.2,635.5M1310.5,674.7L1334.2,644.3M1310.5,683.4L1334.2,653M1310.5,692.2L1334.2,661.8M1315.3,694.8L1334.2,670.5M1322.1,694.8L1334.2,679.3M1328.9,694.8L1334.2,688" stroke="#000" stroke-width="1.8" fill="none"/><rect x="1310.5" y="533.7" width="23.65" height="161.1" fill="none" stroke="#000" stroke-width="1.6"/>
<rect x="1334.15" y="530.1" width="23.65" height="164.7" fill="#00ff00"/><path d="M1334.2,531.1L1334.9,530.1M1334.2,543.7L1344.8,530.1M1334.2,556.2L1354.7,530.1M1334.2,568.8L1357.8,538.7M1334.2,581.4L1357.8,551.3M1334.2,594L1357.8,563.9M1334.2,606.5L1357.8,576.4M1334.2,619.1L1357.8,589M1334.2,631.7L1357.8,601.6M1334.2,644.2L1357.8,614.1M1334.2,656.8L1357.8,626.7M1334.2,669.4L1357.8,639.3M1334.2,681.9L1357.8,651.8M1334.2,694.5L1357.8,664.4M1343.8,694.8L1357.8,677M1353.7,694.8L1357.8,689.6M1353.9,530.1L1357.8,535M1344,530.1L1357.8,547.6M1334.2,530.1L1357.8,560.2M1334.2,542.7L1357.8,572.7M1334.2,555.2L1357.8,585.3M1334.2,567.8L1357.8,597.9M1334.2,580.4L1357.8,610.5M1334.2,592.9L1357.8,623M1334.2,605.5L1357.8,635.6M1334.2,618.1L1357.8,648.2M1334.2,630.6L1357.8,660.7M1334.2,643.2L1357.8,673.3M1334.2,655.8L1357.8,685.9M1334.2,668.3L1354.9,694.8M1334.2,680.9L1345.1,694.8M1334.2,693.5L1335.2,694.8" stroke="#000" stroke-width="1.7" fill="none"/><rect x="1334.15" y="530.1" width="23.65" height="164.7" fill="none" stroke="#000" stroke-width="1.6"/>
<rect x="1357.8" y="529.3" width="23.65" height="165.5" fill="#0000ff"/><path d="M1368.5,529.3V694.8M1378.9,529.3V694.8M1357.8,529.8H1381.5M1357.8,543.1H1381.5M1357.8,556.4H1381.5M1357.8,569.8H1381.5M1357.8,583.1H1381.5M1357.8,596.4H1381.5M1357.8,609.7H1381.5M1357.8,623.1H1381.5M1357.8,636.4H1381.5M1357.8,649.7H1381.5M1357.8,663H1381.5M1357.8,676.4H1381.5M1357.8,689.7H1381.5" stroke="#000" stroke-width="1.6" fill="none"/><rect x="1357.8" y="529.3" width="23.65" height="165.5" fill="none" stroke="#000" stroke-width="1.6"/>
<rect x="1381.45" y="529.9" width="23.65" height="164.9" fill="#00ffff"/><path d="M1388.8,529.9V694.8M1395.8,529.9V694.8M1402.7,529.9V694.8" stroke="#000" stroke-width="1.6" fill="none"/><rect x="1381.45" y="529.9" width="23.65" height="164.9" fill="none" stroke="#000" stroke-width="1.6"/>
<rect x="1405.1" y="527.1" width="23.65" height="167.7" fill="#ff00ff"/><path d="M1425.2,527.1L1428.8,531.5M1415.2,527.1L1428.8,544.1M1405.1,527.1L1428.8,556.7M1405.1,539.7L1428.8,569.2M1405.1,552.2L1428.8,581.8M1405.1,564.8L1428.8,594.4M1405.1,577.4L1428.8,606.9M1405.1,589.9L1428.8,619.5M1405.1,602.5L1428.8,632.1M1405.1,615.1L1428.8,644.6M1405.1,627.7L1428.8,657.2M1405.1,640.2L1428.8,669.8M1405.1,652.8L1428.8,682.3M1405.1,665.4L1428.7,694.8M1405.1,677.9L1418.6,694.8M1405.1,690.5L1408.5,694.8" stroke="#000" stroke-width="1.8" fill="none"/><rect x="1405.1" y="527.1" width="23.65" height="167.7" fill="none" stroke="#000" stroke-width="1.6"/>
<rect x="1428.75" y="522.1" width="23.65" height="172.7" fill="#ffff00"/><path d="M1428.8,523.1L1429.5,522.1M1428.8,541.8L1444.4,522.1M1428.8,560.4L1452.4,530.7M1428.8,579.1L1452.4,549.4M1428.8,597.8L1452.4,568M1428.8,616.4L1452.4,586.7M1428.8,635.1L1452.4,605.4M1428.8,653.8L1452.4,624M1428.8,672.5L1452.4,642.7M1428.8,691.1L1452.4,661.4M1440.7,694.8L1452.4,680M1443.6,522.1L1452.4,533.2M1428.8,522.1L1452.4,551.9M1428.8,540.8L1452.4,570.5M1428.8,559.4L1452.4,589.2M1428.8,578.1L1452.4,607.9M1428.8,596.8L1452.4,626.5M1428.8,615.4L1452.4,645.2M1428.8,634.1L1452.4,663.9M1428.8,652.8L1452.4,682.5M1428.8,671.4L1447.3,694.8M1428.8,690.1L1432.5,694.8" stroke="#000" stroke-width="1.7" fill="none"/><rect x="1428.75" y="522.1" width="23.65" height="172.7" fill="none" stroke="#000" stroke-width="1.6"/>
<rect x="1487.75" y="539.7" width="23.65" height="155.1" fill="#ff0000"/><path d="M1487.8,540.7L1488.5,539.7M1487.8,549.5L1495.3,539.7M1487.8,558.2L1502.2,539.7M1487.8,567L1509,539.7M1487.8,575.7L1511.4,545.3M1487.8,584.5L1511.4,554.1M1487.8,593.2L1511.4,562.8M1487.8,602L1511.4,571.6M1487.8,610.7L1511.4,580.3M1487.8,619.5L1511.4,589.1M1487.8,628.2L1511.4,597.8M1487.8,637L1511.4,606.6M1487.8,645.7L1511.4,615.3M1487.8,654.5L1511.4,624M1487.8,663.2L1511.4,632.8M1487.8,672L1511.4,641.5M1487.8,680.7L1511.4,650.3M1487.8,689.4L1511.4,659M1490.4,694.8L1511.4,667.8M1497.2,694.8L1511.4,676.5M1504,694.8L1511.4,685.3M1510.8,694.8L1511.4,694" stroke="#000" stroke-width="1.8" fill="none"/><rect x="1487.75" y="539.7" width="23.65" height="155.1" fill="none" stroke="#000" stroke-width="1.6"/>
<rect x="1511.4" y="537.7" width="23.65" height="157.1" fill="#00ff00"/><path d="M1511.4,538.7L1512.2,537.7M1511.4,551.3L1522.1,537.7M1511.4,563.8L1532,537.7M1511.4,576.4L1535.1,546.3M1511.4,589L1535.1,558.9M1511.4,601.6L1535.1,571.5M1511.4,614.1L1535.1,584M1511.4,626.7L1535.1,596.6M1511.4,639.3L1535.1,609.2M1511.4,651.8L1535.1,621.7M1511.4,664.4L1535.1,634.3M1511.4,677L1535.1,646.9M1511.4,689.5L1535.1,659.4M1517.1,694.8L1535.1,672M1527,694.8L1535.1,684.6M1531.2,537.7L1535.1,542.6M1521.3,537.7L1535.1,555.2M1511.4,537.7L1535.1,567.8M1511.4,550.3L1535.1,580.3M1511.4,562.8L1535.1,592.9M1511.4,575.4L1535.1,605.5M1511.4,588L1535.1,618.1M1511.4,600.5L1535.1,630.6M1511.4,613.1L1535.1,643.2M1511.4,625.7L1535.1,655.8M1511.4,638.2L1535.1,668.3M1511.4,650.8L1535.1,680.9M1511.4,663.4L1535.1,693.5M1511.4,675.9L1526.2,694.8M1511.4,688.5L1516.3,694.8" stroke="#000" stroke-width="1.7" fill="none"/><rect x="1511.4" y="537.7" width="23.65" height="157.1" fill="none" stroke="#000" stroke-width="1.6"/>
<rect x="1535.05" y="537.1" width="23.65" height="157.7" fill="#0000ff"/><path d="M1545.8,537.1V694.8M1556.1,537.1V694.8M1535,537.6H1558.7M1535,550.9H1558.7M1535,564.2H1558.7M1535,577.6H1558.7M1535,590.9H1558.7M1535,604.2H1558.7M1535,617.5H1558.7M1535,630.9H1558.7M1535,644.2H1558.7M1535,657.5H1558.7M1535,670.8H1558.7M1535,684.2H1558.7" stroke="#000" stroke-width="1.6" fill="none"/><rect x="1535.05" y="537.1" width="23.65" height="157.7" fill="none" stroke="#000" stroke-width="1.6"/>
<rect x="1558.7" y="536.9" width="23.65" height="157.9" fill="#00ffff"/><path d="M1566.1,536.9V694.8M1573,536.9V694.8M1580,536.9V694.8" stroke="#000" stroke-width="1.6" fill="none"/><rect x="1558.7" y="536.9" width="23.65" height="157.9" fill="none" stroke="#000" stroke-width="1.6"/>
<rect x="1582.35" y="535.9" width="23.65" height="158.9" fill="#ff00ff"/><path d="M1602.5,535.9L1606,540.3M1592.4,535.9L1606,552.9M1582.3,535.9L1606,565.5M1582.3,548.5L1606,578M1582.3,561L1606,590.6M1582.3,573.6L1606,603.2M1582.3,586.2L1606,615.7M1582.3,598.7L1606,628.3M1582.3,611.3L1606,640.9M1582.3,623.9L1606,653.4M1582.3,636.5L1606,666M1582.3,649L1606,678.6M1582.3,661.6L1606,691.1M1582.3,674.2L1598.9,694.8M1582.3,686.7L1588.8,694.8" stroke="#000" stroke-width="1.8" fill="none"/><rect x="1582.35" y="535.9" width="23.65" height="158.9" fill="none" stroke="#000" stroke-width="1.6"/>
<rect x="1606" y="533.1" width="23.65" height="161.7" fill="#ffff00"/><path d="M1606,534.1L1606.8,533.1M1606,552.8L1621.6,533.1M1606,571.4L1629.7,541.7M1606,590.1L1629.7,560.4M1606,608.8L1629.7,579M1606,627.4L1629.7,597.7M1606,646.1L1629.7,616.4M1606,664.8L1629.7,635M1606,683.5L1629.7,653.7M1611.8,694.8L1629.7,672.4M1626.7,694.8L1629.7,691M1620.8,533.1L1629.7,544.2M1606,533.1L1629.7,562.9M1606,551.8L1629.7,581.5M1606,570.4L1629.7,600.2M1606,589.1L1629.7,618.9M1606,607.8L1629.7,637.5M1606,626.4L1629.7,656.2M1606,645.1L1629.7,674.9M1606,663.8L1629.7,693.5M1606,682.4L1615.8,694.8" stroke="#000" stroke-width="1.7" fill="none"/><rect x="1606" y="533.1" width="23.65" height="161.7" fill="none" stroke="#000" stroke-width="1.6"/>
<rect x="942.99" y="27.7" width="69.45" height="30.3" fill="#ff0000"/><path d="M943,28.7L943.8,27.7M943,37.5L950.6,27.7M943,46.2L957.4,27.7M943,55L964.2,27.7M947.4,58L971,27.7M954.2,58L977.8,27.7M961,58L984.6,27.7M967.9,58L991.4,27.7M974.7,58L998.2,27.7M981.5,58L1005,27.7M988.3,58L1011.8,27.7M995.1,58L1012.4,35.7M1001.9,58L1012.4,44.4M1008.7,58L1012.4,53.2" stroke="#000" stroke-width="1.8" fill="none"/><rect x="942.99" y="27.7" width="69.45" height="30.3" fill="none" stroke="#000" stroke-width="1.7"/>
<text class="sb" transform="translate(1027.11,54) scale(0.7784,1)" font-size="34.5">B0</text>
<rect x="1064.73" y="27.7" width="69.45" height="30.3" fill="#00ff00"/><path d="M1064.7,28.7L1065.5,27.7M1064.7,41.3L1075.4,27.7M1064.7,53.8L1085.3,27.7M1071.4,58L1095.2,27.7M1081.2,58L1105,27.7M1091.1,58L1114.9,27.7M1101,58L1124.8,27.7M1110.9,58L1134.2,28.3M1120.7,58L1134.2,40.9M1130.6,58L1134.2,53.5M1133.9,27.7L1134.2,28.1M1124,27.7L1134.2,40.6M1114.1,27.7L1134.2,53.2M1104.3,27.7L1128.1,58M1094.4,27.7L1118.2,58M1084.5,27.7L1108.3,58M1074.6,27.7L1098.4,58M1064.7,27.7L1088.6,58M1064.7,40.3L1078.7,58M1064.7,52.8L1068.8,58" stroke="#000" stroke-width="1.7" fill="none"/><rect x="1064.73" y="27.7" width="69.45" height="30.3" fill="none" stroke="#000" stroke-width="1.7"/>
<text class="sb" transform="translate(1141.17,54) scale(0.7784,1)" font-size="34.5">LA20</text>
<rect x="1212.32" y="27.7" width="69.45" height="30.3" fill="#0000ff"/><path d="M1223.1,27.7V58M1233.4,27.7V58M1243.7,27.7V58M1254.1,27.7V58M1264.4,27.7V58M1274.7,27.7V58M1212.3,28.2H1281.8M1212.3,41.5H1281.8M1212.3,54.8H1281.8" stroke="#000" stroke-width="1.6" fill="none"/><rect x="1212.32" y="27.7" width="69.45" height="30.3" fill="none" stroke="#000" stroke-width="1.7"/>
<text class="sb" transform="translate(1288.66,54) scale(0.7784,1)" font-size="34.5">LA40</text>
<rect x="942.99" y="70.5" width="69.45" height="30.3" fill="#00ffff"/><path d="M950.4,70.5V100.8M957.3,70.5V100.8M964.3,70.5V100.8M971.3,70.5V100.8M978.2,70.5V100.8M985.2,70.5V100.8M992.1,70.5V100.8M999.1,70.5V100.8M1006.1,70.5V100.8" stroke="#000" stroke-width="1.6" fill="none"/><rect x="942.99" y="70.5" width="69.45" height="30.3" fill="none" stroke="#000" stroke-width="1.7"/>
<text class="sb" transform="translate(1027.11,96.3) scale(0.7784,1)" font-size="34.5">LA60</text>
<rect x="1097.46" y="70.5" width="69.45" height="30.3" fill="#ff00ff"/><path d="M1157.8,70.5L1166.9,81.9M1147.8,70.5L1166.9,94.4M1137.7,70.5L1161.9,100.8M1127.6,70.5L1151.9,100.8M1117.6,70.5L1141.8,100.8M1107.5,70.5L1131.8,100.8M1097.5,70.5L1121.7,100.8M1097.5,83.1L1111.6,100.8M1097.5,95.6L1101.6,100.8" stroke="#000" stroke-width="1.8" fill="none"/><rect x="1097.46" y="70.5" width="69.45" height="30.3" fill="none" stroke="#000" stroke-width="1.7"/>
<text class="sb" transform="translate(1174,96.3) scale(0.7784,1)" font-size="34.5">LA80</text>
<rect x="1245.25" y="70.5" width="69.45" height="30.3" fill="#ffff00"/><path d="M1245.3,71.5L1246,70.5M1245.3,90.2L1260.9,70.5M1251.6,100.8L1275.7,70.5M1266.5,100.8L1290.6,70.5M1281.3,100.8L1305.4,70.5M1296.2,100.8L1314.7,77.5M1311,100.8L1314.7,96.1M1304.6,70.5L1314.7,83.2M1289.8,70.5L1313.8,100.8M1274.9,70.5L1299,100.8M1260.1,70.5L1284.2,100.8M1245.3,70.5L1269.3,100.8M1245.3,89.2L1254.5,100.8" stroke="#000" stroke-width="1.7" fill="none"/><rect x="1245.25" y="70.5" width="69.45" height="30.3" fill="none" stroke="#000" stroke-width="1.7"/>
<text class="sb" transform="translate(1321.19,96.3) scale(0.7784,1)" font-size="34.5">LA100</text>
<text class="sb" transform="translate(943.75,147.75) scale(0.7823,1)" font-size="34.5">Injection timing:21<tspan font-size="20.7" dy="-18.8">0</tspan><tspan dy="18.8"> bTDC, Speed:1500 rpm, CR:17.5</tspan></text>
<text class="sb m" transform="translate(1293.8,789.6) scale(0.804,1)" font-size="31">Load, %</text>
<text class="sb m" transform="translate(855.1,378.77) rotate(-90) scale(1.0142,0.88)" font-size="31.1">CO<tspan font-size="17.42" dy="9.95">2</tspan><tspan dy="-9.95"> emission</tspan></text>
<text class="cp" transform="translate(1083.4,841.1)" font-size="37.5">(b) Injection timing 21º bTDC.</text>
</g>
<g id="panel-c">
<path d="M96.4,874.4 H816 V1549.8 H96.4 M106.9,873.1 V1551.1" fill="none" stroke="#000" stroke-width="2.6"/>
<text class="tk e" transform="translate(89.4,1556.1) scale(0.721,1)" font-size="28.5">0</text>
<text class="tk e" transform="translate(89.4,1459.61) scale(0.721,1)" font-size="28.5">500</text>
<text class="tk e" transform="translate(89.4,1363.13) scale(0.721,1)" font-size="28.5">1000</text>
<text class="tk e" transform="translate(89.4,1266.64) scale(0.721,1)" font-size="28.5">1500</text>
<text class="tk e" transform="translate(89.4,1170.16) scale(0.721,1)" font-size="28.5">2000</text>
<text class="tk e" transform="translate(89.4,1073.67) scale(0.721,1)" font-size="28.5">2500</text>
<text class="tk e" transform="translate(89.4,977.19) scale(0.721,1)" font-size="28.5">3000</text>
<text class="tk e" transform="translate(89.4,880.7) scale(0.721,1)" font-size="28.5">3500</text>
<text class="tk m" transform="translate(195.74,1590.9) scale(0.721,1)" font-size="28.5">25</text>
<text class="tk m" transform="translate(373.01,1590.9) scale(0.721,1)" font-size="28.5">50</text>
<text class="tk m" transform="translate(550.29,1590.9) scale(0.721,1)" font-size="28.5">75</text>
<text class="tk m" transform="translate(727.56,1590.9) scale(0.721,1)" font-size="28.5">100</text>
<path d="M96.4,1453.31 H106.9 M96.4,1356.83 H106.9 M96.4,1260.34 H106.9 M96.4,1163.86 H106.9 M96.4,1067.37 H106.9 M96.4,970.89 H106.9 M195.74,1549.8 V1563.2 M373.01,1549.8 V1563.2 M550.29,1549.8 V1563.2 M727.56,1549.8 V1563.2" fill="none" stroke="#000" stroke-width="2.7"/>
<rect x="124.6" y="1187.1" width="23.65" height="362.7" fill="#ff0000"/><path d="M124.6,1188.1L125.4,1187.1M124.6,1196.8L132.2,1187.1M124.6,1205.5L139,1187.1M124.6,1214.2L145.8,1187.1M124.6,1223L148.3,1192.7M124.6,1231.7L148.3,1201.4M124.6,1240.4L148.3,1210.1M124.6,1249.1L148.3,1218.8M124.6,1257.8L148.3,1227.5M124.6,1266.5L148.3,1236.2M124.6,1275.2L148.3,1244.9M124.6,1283.9L148.3,1253.7M124.6,1292.6L148.3,1262.4M124.6,1301.3L148.3,1271.1M124.6,1310L148.3,1279.8M124.6,1318.8L148.3,1288.5M124.6,1327.5L148.3,1297.2M124.6,1336.2L148.3,1305.9M124.6,1344.9L148.3,1314.6M124.6,1353.6L148.3,1323.3M124.6,1362.3L148.3,1332M124.6,1371L148.3,1340.8M124.6,1379.7L148.3,1349.5M124.6,1388.4L148.3,1358.2M124.6,1397.1L148.3,1366.9M124.6,1405.9L148.3,1375.6M124.6,1414.6L148.3,1384.3M124.6,1423.3L148.3,1393M124.6,1432L148.3,1401.7M124.6,1440.7L148.3,1410.4M124.6,1449.4L148.3,1419.1M124.6,1458.1L148.3,1427.8M124.6,1466.8L148.3,1436.6M124.6,1475.5L148.3,1445.3M124.6,1484.2L148.3,1454M124.6,1493L148.3,1462.7M124.6,1501.7L148.3,1471.4M124.6,1510.4L148.3,1480.1M124.6,1519.1L148.3,1488.8M124.6,1527.8L148.3,1497.5M124.6,1536.5L148.3,1506.2M124.6,1545.2L148.3,1514.9M127.8,1549.8L148.3,1523.7M134.6,1549.8L148.3,1532.4M141.4,1549.8L148.3,1541.1M148.2,1549.8L148.3,1549.8" stroke="#000" stroke-width="1.8" fill="none"/><rect x="124.6" y="1187.1" width="23.65" height="362.7" fill="none" stroke="#000" stroke-width="1.6"/>
<rect x="148.25" y="1182.8" width="23.65" height="367" fill="#00ff00"/><path d="M148.3,1183.8L149,1182.8M148.3,1196.3L158.9,1182.8M148.3,1208.8L168.8,1182.8M148.3,1221.3L171.9,1191.4M148.3,1233.9L171.9,1203.9M148.3,1246.4L171.9,1216.4M148.3,1258.9L171.9,1228.9M148.3,1271.4L171.9,1241.4M148.3,1283.9L171.9,1254M148.3,1296.4L171.9,1266.5M148.3,1308.9L171.9,1279M148.3,1321.4L171.9,1291.5M148.3,1334L171.9,1304M148.3,1346.5L171.9,1316.5M148.3,1359L171.9,1329M148.3,1371.5L171.9,1341.5M148.3,1384L171.9,1354.1M148.3,1396.5L171.9,1366.6M148.3,1409L171.9,1379.1M148.3,1421.5L171.9,1391.6M148.3,1434.1L171.9,1404.1M148.3,1446.6L171.9,1416.6M148.3,1459.1L171.9,1429.1M148.3,1471.6L171.9,1441.6M148.3,1484.1L171.9,1454.2M148.3,1496.6L171.9,1466.7M148.3,1509.1L171.9,1479.2M148.3,1521.6L171.9,1491.7M148.3,1534.2L171.9,1504.2M148.3,1546.7L171.9,1516.7M155.7,1549.8L171.9,1529.2M165.5,1549.8L171.9,1541.7M168,1182.8L171.9,1187.7M158.1,1182.8L171.9,1200.2M148.3,1182.8L171.9,1212.7M148.3,1195.3L171.9,1225.3M148.3,1207.8L171.9,1237.8M148.3,1220.3L171.9,1250.3M148.3,1232.8L171.9,1262.8M148.3,1245.4L171.9,1275.3M148.3,1257.9L171.9,1287.8M148.3,1270.4L171.9,1300.3M148.3,1282.9L171.9,1312.8M148.3,1295.4L171.9,1325.4M148.3,1307.9L171.9,1337.9M148.3,1320.4L171.9,1350.4M148.3,1332.9L171.9,1362.9M148.3,1345.5L171.9,1375.4M148.3,1358L171.9,1387.9M148.3,1370.5L171.9,1400.4M148.3,1383L171.9,1412.9M148.3,1395.5L171.9,1425.5M148.3,1408L171.9,1438M148.3,1420.5L171.9,1450.5M148.3,1433L171.9,1463M148.3,1445.6L171.9,1475.5M148.3,1458.1L171.9,1488M148.3,1470.6L171.9,1500.5M148.3,1483.1L171.9,1513M148.3,1495.6L171.9,1525.6M148.3,1508.1L171.9,1538.1M148.3,1520.6L171.3,1549.8M148.3,1533.1L161.4,1549.8M148.3,1545.7L151.5,1549.8" stroke="#000" stroke-width="1.7" fill="none"/><rect x="148.25" y="1182.8" width="23.65" height="367" fill="none" stroke="#000" stroke-width="1.6"/>
<rect x="171.9" y="1163" width="23.65" height="386.8" fill="#0000ff"/><path d="M182.6,1163V1549.8M193,1163V1549.8M171.9,1163.5H195.6M171.9,1176.8H195.6M171.9,1190H195.6M171.9,1203.3H195.6M171.9,1216.6H195.6M171.9,1229.8H195.6M171.9,1243.1H195.6M171.9,1256.3H195.6M171.9,1269.6H195.6M171.9,1282.9H195.6M171.9,1296.1H195.6M171.9,1309.4H195.6M171.9,1322.7H195.6M171.9,1335.9H195.6M171.9,1349.2H195.6M171.9,1362.5H195.6M171.9,1375.7H195.6M171.9,1389H195.6M171.9,1402.3H195.6M171.9,1415.5H195.6M171.9,1428.8H195.6M171.9,1442H195.6M171.9,1455.3H195.6M171.9,1468.6H195.6M171.9,1481.8H195.6M171.9,1495.1H195.6M171.9,1508.4H195.6M171.9,1521.6H195.6M171.9,1534.9H195.6M171.9,1548.2H195.6" stroke="#000" stroke-width="1.6" fill="none"/><rect x="171.9" y="1163" width="23.65" height="386.8" fill="none" stroke="#000" stroke-width="1.6"/>
<rect x="195.55" y="1142.2" width="23.65" height="407.6" fill="#00ffff"/><path d="M202.9,1142.2V1549.8M209.9,1142.2V1549.8M216.8,1142.2V1549.8" stroke="#000" stroke-width="1.6" fill="none"/><rect x="195.55" y="1142.2" width="23.65" height="407.6" fill="none" stroke="#000" stroke-width="1.6"/>
<rect x="219.2" y="1102.6" width="23.65" height="447.2" fill="#ff00ff"/><path d="M239.3,1102.6L242.9,1107M229.3,1102.6L242.9,1119.5M219.2,1102.6L242.9,1132M219.2,1115.1L242.9,1144.5M219.2,1127.6L242.9,1157M219.2,1140.1L242.9,1169.6M219.2,1152.7L242.9,1182.1M219.2,1165.2L242.9,1194.6M219.2,1177.7L242.9,1207.1M219.2,1190.2L242.9,1219.6M219.2,1202.7L242.9,1232.1M219.2,1215.2L242.9,1244.6M219.2,1227.7L242.9,1257.1M219.2,1240.2L242.9,1269.7M219.2,1252.8L242.9,1282.2M219.2,1265.3L242.9,1294.7M219.2,1277.8L242.9,1307.2M219.2,1290.3L242.9,1319.7M219.2,1302.8L242.9,1332.2M219.2,1315.3L242.9,1344.7M219.2,1327.8L242.9,1357.2M219.2,1340.3L242.9,1369.8M219.2,1352.9L242.9,1382.3M219.2,1365.4L242.9,1394.8M219.2,1377.9L242.9,1407.3M219.2,1390.4L242.9,1419.8M219.2,1402.9L242.9,1432.3M219.2,1415.4L242.9,1444.8M219.2,1427.9L242.9,1457.3M219.2,1440.4L242.9,1469.9M219.2,1453L242.9,1482.4M219.2,1465.5L242.9,1494.9M219.2,1478L242.9,1507.4M219.2,1490.5L242.9,1519.9M219.2,1503L242.9,1532.4M219.2,1515.5L242.9,1544.9M219.2,1528L236.7,1549.8M219.2,1540.5L226.6,1549.8" stroke="#000" stroke-width="1.8" fill="none"/><rect x="219.2" y="1102.6" width="23.65" height="447.2" fill="none" stroke="#000" stroke-width="1.6"/>
<rect x="242.85" y="1073.9" width="23.65" height="475.9" fill="#ffff00"/><path d="M242.9,1074.9L243.6,1073.9M242.9,1093.5L258.5,1073.9M242.9,1112.1L266.5,1082.4M242.9,1130.7L266.5,1101M242.9,1149.2L266.5,1119.6M242.9,1167.8L266.5,1138.2M242.9,1186.4L266.5,1156.8M242.9,1205L266.5,1175.4M242.9,1223.6L266.5,1194M242.9,1242.2L266.5,1212.5M242.9,1260.7L266.5,1231.1M242.9,1279.3L266.5,1249.7M242.9,1297.9L266.5,1268.3M242.9,1316.5L266.5,1286.9M242.9,1335.1L266.5,1305.5M242.9,1353.7L266.5,1324M242.9,1372.3L266.5,1342.6M242.9,1390.8L266.5,1361.2M242.9,1409.4L266.5,1379.8M242.9,1428L266.5,1398.4M242.9,1446.6L266.5,1417M242.9,1465.2L266.5,1435.6M242.9,1483.8L266.5,1454.1M242.9,1502.3L266.5,1472.7M242.9,1520.9L266.5,1491.3M242.9,1539.5L266.5,1509.9M249.5,1549.8L266.5,1528.5M264.3,1549.8L266.5,1547.1M257.7,1073.9L266.5,1084.9M242.9,1073.9L266.5,1103.5M242.9,1092.5L266.5,1122.1M242.9,1111.1L266.5,1140.7M242.9,1129.7L266.5,1159.3M242.9,1148.2L266.5,1177.9M242.9,1166.8L266.5,1196.4M242.9,1185.4L266.5,1215M242.9,1204L266.5,1233.6M242.9,1222.6L266.5,1252.2M242.9,1241.2L266.5,1270.8M242.9,1259.7L266.5,1289.4M242.9,1278.3L266.5,1307.9M242.9,1296.9L266.5,1326.5M242.9,1315.5L266.5,1345.1M242.9,1334.1L266.5,1363.7M242.9,1352.7L266.5,1382.3M242.9,1371.3L266.5,1400.9M242.9,1389.8L266.5,1419.5M242.9,1408.4L266.5,1438M242.9,1427L266.5,1456.6M242.9,1445.6L266.5,1475.2M242.9,1464.2L266.5,1493.8M242.9,1482.8L266.5,1512.4M242.9,1501.3L266.5,1531M242.9,1519.9L266.5,1549.5M242.9,1538.5L251.9,1549.8" stroke="#000" stroke-width="1.7" fill="none"/><rect x="242.85" y="1073.9" width="23.65" height="475.9" fill="none" stroke="#000" stroke-width="1.6"/>
<rect x="302.05" y="1368.1" width="23.65" height="181.7" fill="#ff0000"/><path d="M302.1,1369.1L302.8,1368.1M302.1,1377.8L309.6,1368.1M302.1,1386.5L316.5,1368.1M302.1,1395.2L323.3,1368.1M302.1,1404L325.7,1373.7M302.1,1412.7L325.7,1382.4M302.1,1421.4L325.7,1391.1M302.1,1430.1L325.7,1399.8M302.1,1438.8L325.7,1408.5M302.1,1447.5L325.7,1417.2M302.1,1456.2L325.7,1425.9M302.1,1464.9L325.7,1434.7M302.1,1473.6L325.7,1443.4M302.1,1482.3L325.7,1452.1M302.1,1491L325.7,1460.8M302.1,1499.8L325.7,1469.5M302.1,1508.5L325.7,1478.2M302.1,1517.2L325.7,1486.9M302.1,1525.9L325.7,1495.6M302.1,1534.6L325.7,1504.3M302.1,1543.3L325.7,1513M303.8,1549.8L325.7,1521.8M310.6,1549.8L325.7,1530.5M317.4,1549.8L325.7,1539.2M324.2,1549.8L325.7,1547.9" stroke="#000" stroke-width="1.8" fill="none"/><rect x="302.05" y="1368.1" width="23.65" height="181.7" fill="none" stroke="#000" stroke-width="1.6"/>
<rect x="325.7" y="1365.2" width="23.65" height="184.6" fill="#00ff00"/><path d="M325.7,1366.2L326.5,1365.2M325.7,1378.7L336.4,1365.2M325.7,1391.2L346.3,1365.2M325.7,1403.7L349.3,1373.8M325.7,1416.3L349.3,1386.3M325.7,1428.8L349.3,1398.8M325.7,1441.3L349.3,1411.3M325.7,1453.8L349.3,1423.8M325.7,1466.3L349.3,1436.4M325.7,1478.8L349.3,1448.9M325.7,1491.3L349.3,1461.4M325.7,1503.8L349.3,1473.9M325.7,1516.4L349.3,1486.4M325.7,1528.9L349.3,1498.9M325.7,1541.4L349.3,1511.4M328.9,1549.8L349.3,1523.9M338.8,1549.8L349.3,1536.5M348.7,1549.8L349.3,1549M345.5,1365.2L349.3,1370.1M335.6,1365.2L349.3,1382.6M325.7,1365.2L349.3,1395.1M325.7,1377.7L349.3,1407.7M325.7,1390.2L349.3,1420.2M325.7,1402.7L349.3,1432.7M325.7,1415.2L349.3,1445.2M325.7,1427.8L349.3,1457.7M325.7,1440.3L349.3,1470.2M325.7,1452.8L349.3,1482.7M325.7,1465.3L349.3,1495.2M325.7,1477.8L349.3,1507.8M325.7,1490.3L349.3,1520.3M325.7,1502.8L349.3,1532.8M325.7,1515.3L349.3,1545.3M325.7,1527.9L343,1549.8M325.7,1540.4L333.1,1549.8" stroke="#000" stroke-width="1.7" fill="none"/><rect x="325.7" y="1365.2" width="23.65" height="184.6" fill="none" stroke="#000" stroke-width="1.6"/>
<rect x="349.35" y="1363.8" width="23.65" height="186" fill="#0000ff"/><path d="M360.1,1363.8V1549.8M370.4,1363.8V1549.8M349.4,1364.3H373M349.4,1377.6H373M349.4,1390.8H373M349.4,1404.1H373M349.4,1417.4H373M349.4,1430.6H373M349.4,1443.9H373M349.4,1457.1H373M349.4,1470.4H373M349.4,1483.7H373M349.4,1496.9H373M349.4,1510.2H373M349.4,1523.5H373M349.4,1536.7H373" stroke="#000" stroke-width="1.6" fill="none"/><rect x="349.35" y="1363.8" width="23.65" height="186" fill="none" stroke="#000" stroke-width="1.6"/>
<rect x="373" y="1362.4" width="23.65" height="187.4" fill="#00ffff"/><path d="M380.4,1362.4V1549.8M387.3,1362.4V1549.8M394.3,1362.4V1549.8" stroke="#000" stroke-width="1.6" fill="none"/><rect x="373" y="1362.4" width="23.65" height="187.4" fill="none" stroke="#000" stroke-width="1.6"/>
<rect x="396.65" y="1361.7" width="23.65" height="188.1" fill="#ff00ff"/><path d="M416.8,1361.7L420.3,1366.1M406.7,1361.7L420.3,1378.6M396.6,1361.7L420.3,1391.1M396.6,1374.2L420.3,1403.6M396.6,1386.7L420.3,1416.1M396.6,1399.2L420.3,1428.7M396.6,1411.8L420.3,1441.2M396.6,1424.3L420.3,1453.7M396.6,1436.8L420.3,1466.2M396.6,1449.3L420.3,1478.7M396.6,1461.8L420.3,1491.2M396.6,1474.3L420.3,1503.7M396.6,1486.8L420.3,1516.2M396.6,1499.3L420.3,1528.8M396.6,1511.9L420.3,1541.3M396.6,1524.4L417.1,1549.8M396.6,1536.9L407,1549.8M396.6,1549.4L397,1549.8" stroke="#000" stroke-width="1.8" fill="none"/><rect x="396.65" y="1361.7" width="23.65" height="188.1" fill="none" stroke="#000" stroke-width="1.6"/>
<rect x="420.3" y="1360.1" width="23.65" height="189.7" fill="#ffff00"/><path d="M420.3,1361.1L421.1,1360.1M420.3,1379.7L435.9,1360.1M420.3,1398.3L443.9,1368.6M420.3,1416.9L443.9,1387.2M420.3,1435.4L443.9,1405.8M420.3,1454L443.9,1424.4M420.3,1472.6L443.9,1443M420.3,1491.2L443.9,1461.6M420.3,1509.8L443.9,1480.2M420.3,1528.4L443.9,1498.7M420.3,1546.9L443.9,1517.3M432.9,1549.8L443.9,1535.9M435.1,1360.1L443.9,1371.1M420.3,1360.1L443.9,1389.7M420.3,1378.7L443.9,1408.3M420.3,1397.3L443.9,1426.9M420.3,1415.9L443.9,1445.5M420.3,1434.4L443.9,1464.1M420.3,1453L443.9,1482.6M420.3,1471.6L443.9,1501.2M420.3,1490.2L443.9,1519.8M420.3,1508.8L443.9,1538.4M420.3,1527.4L438.2,1549.8M420.3,1545.9L423.4,1549.8" stroke="#000" stroke-width="1.7" fill="none"/><rect x="420.3" y="1360.1" width="23.65" height="189.7" fill="none" stroke="#000" stroke-width="1.6"/>
<rect x="479.25" y="1386" width="23.65" height="163.8" fill="#ff0000"/><path d="M479.3,1387L480,1386M479.3,1395.7L486.8,1386M479.3,1404.4L493.7,1386M479.3,1413.1L500.5,1386M479.3,1421.9L502.9,1391.6M479.3,1430.6L502.9,1400.3M479.3,1439.3L502.9,1409M479.3,1448L502.9,1417.7M479.3,1456.7L502.9,1426.4M479.3,1465.4L502.9,1435.1M479.3,1474.1L502.9,1443.8M479.3,1482.8L502.9,1452.6M479.3,1491.5L502.9,1461.3M479.3,1500.2L502.9,1470M479.3,1508.9L502.9,1478.7M479.3,1517.7L502.9,1487.4M479.3,1526.4L502.9,1496.1M479.3,1535.1L502.9,1504.8M479.3,1543.8L502.9,1513.5M481.4,1549.8L502.9,1522.2M488.2,1549.8L502.9,1530.9M495,1549.8L502.9,1539.7M501.8,1549.8L502.9,1548.4" stroke="#000" stroke-width="1.8" fill="none"/><rect x="479.25" y="1386" width="23.65" height="163.8" fill="none" stroke="#000" stroke-width="1.6"/>
<rect x="502.9" y="1384" width="23.65" height="165.8" fill="#00ff00"/><path d="M502.9,1385L503.7,1384M502.9,1397.5L513.6,1384M502.9,1410L523.5,1384M502.9,1422.5L526.6,1392.6M502.9,1435.1L526.6,1405.1M502.9,1447.6L526.6,1417.6M502.9,1460.1L526.6,1430.1M502.9,1472.6L526.6,1442.6M502.9,1485.1L526.6,1455.2M502.9,1497.6L526.6,1467.7M502.9,1510.1L526.6,1480.2M502.9,1522.6L526.6,1492.7M502.9,1535.2L526.6,1505.2M502.9,1547.7L526.6,1517.7M511.1,1549.8L526.6,1530.2M521,1549.8L526.6,1542.7M522.7,1384L526.6,1388.9M512.8,1384L526.6,1401.4M502.9,1384L526.6,1413.9M502.9,1396.5L526.6,1426.5M502.9,1409L526.6,1439M502.9,1421.5L526.6,1451.5M502.9,1434L526.6,1464M502.9,1446.6L526.6,1476.5M502.9,1459.1L526.6,1489M502.9,1471.6L526.6,1501.5M502.9,1484.1L526.6,1514M502.9,1496.6L526.6,1526.6M502.9,1509.1L526.6,1539.1M502.9,1521.6L525.1,1549.8M502.9,1534.1L515.3,1549.8M502.9,1546.7L505.4,1549.8" stroke="#000" stroke-width="1.7" fill="none"/><rect x="502.9" y="1384" width="23.65" height="165.8" fill="none" stroke="#000" stroke-width="1.6"/>
<rect x="526.55" y="1383.2" width="23.65" height="166.6" fill="#0000ff"/><path d="M537.3,1383.2V1549.8M547.6,1383.2V1549.8M526.6,1383.7H550.2M526.6,1397H550.2M526.6,1410.2H550.2M526.6,1423.5H550.2M526.6,1436.8H550.2M526.6,1450H550.2M526.6,1463.3H550.2M526.6,1476.5H550.2M526.6,1489.8H550.2M526.6,1503.1H550.2M526.6,1516.3H550.2M526.6,1529.6H550.2M526.6,1542.9H550.2" stroke="#000" stroke-width="1.6" fill="none"/><rect x="526.55" y="1383.2" width="23.65" height="166.6" fill="none" stroke="#000" stroke-width="1.6"/>
<rect x="550.2" y="1383.1" width="23.65" height="166.7" fill="#00ffff"/><path d="M557.6,1383.1V1549.8M564.5,1383.1V1549.8M571.5,1383.1V1549.8" stroke="#000" stroke-width="1.6" fill="none"/><rect x="550.2" y="1383.1" width="23.65" height="166.7" fill="none" stroke="#000" stroke-width="1.6"/>
<rect x="573.85" y="1383" width="23.65" height="166.8" fill="#ff00ff"/><path d="M594,1383L597.5,1387.4M583.9,1383L597.5,1399.9M573.9,1383L597.5,1412.4M573.9,1395.5L597.5,1424.9M573.9,1408L597.5,1437.4M573.9,1420.5L597.5,1450M573.9,1433.1L597.5,1462.5M573.9,1445.6L597.5,1475M573.9,1458.1L597.5,1487.5M573.9,1470.6L597.5,1500M573.9,1483.1L597.5,1512.5M573.9,1495.6L597.5,1525M573.9,1508.1L597.5,1537.5M573.9,1520.6L597.3,1549.8M573.9,1533.2L587.2,1549.8M573.9,1545.7L577.2,1549.8" stroke="#000" stroke-width="1.8" fill="none"/><rect x="573.85" y="1383" width="23.65" height="166.8" fill="none" stroke="#000" stroke-width="1.6"/>
<rect x="597.5" y="1380.9" width="23.65" height="168.9" fill="#ffff00"/><path d="M597.5,1381.9L598.3,1380.9M597.5,1400.5L613.1,1380.9M597.5,1419.1L621.1,1389.4M597.5,1437.7L621.1,1408M597.5,1456.2L621.1,1426.6M597.5,1474.8L621.1,1445.2M597.5,1493.4L621.1,1463.8M597.5,1512L621.1,1482.4M597.5,1530.6L621.1,1501M597.5,1549.2L621.1,1519.5M611.8,1549.8L621.1,1538.1M612.3,1380.9L621.1,1391.9M597.5,1380.9L621.1,1410.5M597.5,1399.5L621.1,1429.1M597.5,1418.1L621.1,1447.7M597.5,1436.7L621.1,1466.3M597.5,1455.2L621.1,1484.9M597.5,1473.8L621.1,1503.4M597.5,1492.4L621.1,1522M597.5,1511L621.1,1540.6M597.5,1529.6L613.6,1549.8M597.5,1548.2L598.8,1549.8" stroke="#000" stroke-width="1.7" fill="none"/><rect x="597.5" y="1380.9" width="23.65" height="168.9" fill="none" stroke="#000" stroke-width="1.6"/>
<rect x="656.5" y="1394" width="23.65" height="155.8" fill="#ff0000"/><path d="M656.5,1395L657.3,1394M656.5,1403.7L664.1,1394M656.5,1412.4L670.9,1394M656.5,1421.1L677.7,1394M656.5,1429.9L680.1,1399.6M656.5,1438.6L680.1,1408.3M656.5,1447.3L680.1,1417M656.5,1456L680.1,1425.7M656.5,1464.7L680.1,1434.4M656.5,1473.4L680.1,1443.1M656.5,1482.1L680.1,1451.8M656.5,1490.8L680.1,1460.6M656.5,1499.5L680.1,1469.3M656.5,1508.2L680.1,1478M656.5,1516.9L680.1,1486.7M656.5,1525.7L680.1,1495.4M656.5,1534.4L680.1,1504.1M656.5,1543.1L680.1,1512.8M658.1,1549.8L680.1,1521.5M664.9,1549.8L680.1,1530.2M671.7,1549.8L680.1,1538.9M678.5,1549.8L680.1,1547.7" stroke="#000" stroke-width="1.8" fill="none"/><rect x="656.5" y="1394" width="23.65" height="155.8" fill="none" stroke="#000" stroke-width="1.6"/>
<rect x="680.15" y="1391.6" width="23.65" height="158.2" fill="#00ff00"/><path d="M680.1,1392.6L680.9,1391.6M680.1,1405.1L690.8,1391.6M680.1,1417.6L700.7,1391.6M680.1,1430.1L703.8,1400.2M680.1,1442.7L703.8,1412.7M680.1,1455.2L703.8,1425.2M680.1,1467.7L703.8,1437.7M680.1,1480.2L703.8,1450.2M680.1,1492.7L703.8,1462.8M680.1,1505.2L703.8,1475.3M680.1,1517.7L703.8,1487.8M680.1,1530.2L703.8,1500.3M680.1,1542.8L703.8,1512.8M684.5,1549.8L703.8,1525.3M694.3,1549.8L703.8,1537.8M699.9,1391.6L703.8,1396.5M690,1391.6L703.8,1409M680.2,1391.6L703.8,1421.5M680.1,1404.1L703.8,1434.1M680.1,1416.6L703.8,1446.6M680.1,1429.1L703.8,1459.1M680.1,1441.6L703.8,1471.6M680.1,1454.2L703.8,1484.1M680.1,1466.7L703.8,1496.6M680.1,1479.2L703.8,1509.1M680.1,1491.7L703.8,1521.6M680.1,1504.2L703.8,1534.2M680.1,1516.7L703.8,1546.7M680.1,1529.2L696.4,1549.8M680.1,1541.7L686.5,1549.8" stroke="#000" stroke-width="1.7" fill="none"/><rect x="680.15" y="1391.6" width="23.65" height="158.2" fill="none" stroke="#000" stroke-width="1.6"/>
<rect x="703.8" y="1391" width="23.65" height="158.8" fill="#0000ff"/><path d="M714.5,1391V1549.8M724.9,1391V1549.8M703.8,1391.5H727.4M703.8,1404.8H727.4M703.8,1418H727.4M703.8,1431.3H727.4M703.8,1444.6H727.4M703.8,1457.8H727.4M703.8,1471.1H727.4M703.8,1484.3H727.4M703.8,1497.6H727.4M703.8,1510.9H727.4M703.8,1524.1H727.4M703.8,1537.4H727.4" stroke="#000" stroke-width="1.6" fill="none"/><rect x="703.8" y="1391" width="23.65" height="158.8" fill="none" stroke="#000" stroke-width="1.6"/>
<rect x="727.45" y="1390.9" width="23.65" height="158.9" fill="#00ffff"/><path d="M734.8,1390.9V1549.8M741.8,1390.9V1549.8M748.7,1390.9V1549.8" stroke="#000" stroke-width="1.6" fill="none"/><rect x="727.45" y="1390.9" width="23.65" height="158.9" fill="none" stroke="#000" stroke-width="1.6"/>
<rect x="751.1" y="1390.1" width="23.65" height="159.7" fill="#ff00ff"/><path d="M771.2,1390.1L774.8,1394.5M761.2,1390.1L774.8,1407M751.1,1390.1L774.8,1419.5M751.1,1402.6L774.8,1432M751.1,1415.1L774.8,1444.5M751.1,1427.6L774.8,1457.1M751.1,1440.2L774.8,1469.6M751.1,1452.7L774.8,1482.1M751.1,1465.2L774.8,1494.6M751.1,1477.7L774.8,1507.1M751.1,1490.2L774.8,1519.6M751.1,1502.7L774.8,1532.1M751.1,1515.2L774.8,1544.6M751.1,1527.7L768.8,1549.8M751.1,1540.3L758.8,1549.8" stroke="#000" stroke-width="1.8" fill="none"/><rect x="751.1" y="1390.1" width="23.65" height="159.7" fill="none" stroke="#000" stroke-width="1.6"/>
<rect x="774.75" y="1387" width="23.65" height="162.8" fill="#ffff00"/><path d="M774.8,1388L775.5,1387M774.8,1406.6L790.4,1387M774.8,1425.2L798.4,1395.5M774.8,1443.8L798.4,1414.1M774.8,1462.3L798.4,1432.7M774.8,1480.9L798.4,1451.3M774.8,1499.5L798.4,1469.9M774.8,1518.1L798.4,1488.5M774.8,1536.7L798.4,1507.1M779.1,1549.8L798.4,1525.6M793.9,1549.8L798.4,1544.2M789.6,1387L798.4,1398M774.8,1387L798.4,1416.6M774.8,1405.6L798.4,1435.2M774.8,1424.2L798.4,1453.8M774.8,1442.8L798.4,1472.4M774.8,1461.3L798.4,1491M774.8,1479.9L798.4,1509.5M774.8,1498.5L798.4,1528.1M774.8,1517.1L798.4,1546.7M774.8,1535.7L786,1549.8" stroke="#000" stroke-width="1.7" fill="none"/><rect x="774.75" y="1387" width="23.65" height="162.8" fill="none" stroke="#000" stroke-width="1.6"/>
<rect x="111.29" y="888" width="69.45" height="30.16" fill="#ff0000"/><path d="M111.3,889L112.1,888M111.3,897.7L118.9,888M111.3,906.4L125.7,888M111.3,915.1L132.5,888M115.7,918.2L139.3,888M122.5,918.2L146.1,888M129.3,918.2L152.9,888M136.2,918.2L159.7,888M143,918.2L166.5,888M149.8,918.2L173.3,888M156.6,918.2L180.1,888M163.4,918.2L180.7,895.9M170.2,918.2L180.7,904.6M177,918.2L180.7,913.4" stroke="#000" stroke-width="1.8" fill="none"/><rect x="111.29" y="888" width="69.45" height="30.16" fill="none" stroke="#000" stroke-width="1.7"/>
<text class="sb" transform="translate(195.41,914.3) scale(0.7784,1)" font-size="34.5">B0</text>
<rect x="233.03" y="888" width="69.45" height="30.16" fill="#00ff00"/><path d="M233,889L233.8,888M233,901.5L243.7,888M233,914L253.6,888M239.7,918.2L263.5,888M249.5,918.2L273.3,888M259.4,918.2L283.2,888M269.3,918.2L293.1,888M279.2,918.2L302.5,888.6M289,918.2L302.5,901.1M298.9,918.2L302.5,913.7M302.2,888L302.5,888.4M292.3,888L302.5,900.9M282.4,888L302.5,913.4M272.6,888L296.4,918.2M262.7,888L286.5,918.2M252.8,888L276.6,918.2M242.9,888L266.7,918.2M233,888L256.8,918.2M233,900.5L247,918.2M233,913L237.1,918.2" stroke="#000" stroke-width="1.7" fill="none"/><rect x="233.03" y="888" width="69.45" height="30.16" fill="none" stroke="#000" stroke-width="1.7"/>
<text class="sb" transform="translate(309.47,914.3) scale(0.7784,1)" font-size="34.5">LA20</text>
<rect x="380.62" y="888" width="69.45" height="30.16" fill="#0000ff"/><path d="M391.4,888V918.2M401.7,888V918.2M412,888V918.2M422.4,888V918.2M432.7,888V918.2M443,888V918.2M380.6,888.5H450.1M380.6,901.8H450.1M380.6,915H450.1" stroke="#000" stroke-width="1.6" fill="none"/><rect x="380.62" y="888" width="69.45" height="30.16" fill="none" stroke="#000" stroke-width="1.7"/>
<text class="sb" transform="translate(456.96,914.3) scale(0.7784,1)" font-size="34.5">LA40</text>
<rect x="111.29" y="930.8" width="69.45" height="30.16" fill="#00ffff"/><path d="M118.7,930.8V961M125.6,930.8V961M132.6,930.8V961M139.6,930.8V961M146.5,930.8V961M153.5,930.8V961M160.4,930.8V961M167.4,930.8V961M174.4,930.8V961" stroke="#000" stroke-width="1.6" fill="none"/><rect x="111.29" y="930.8" width="69.45" height="30.16" fill="none" stroke="#000" stroke-width="1.7"/>
<text class="sb" transform="translate(195.41,956.6) scale(0.7784,1)" font-size="34.5">LA60</text>
<rect x="265.76" y="930.8" width="69.45" height="30.16" fill="#ff00ff"/><path d="M326.1,930.8L335.2,942.1M316.1,930.8L335.2,954.6M306,930.8L330.2,961M295.9,930.8L320.2,961M285.9,930.8L310.1,961M275.8,930.8L300.1,961M265.8,930.8L290,961M265.8,943.3L279.9,961M265.8,955.8L269.9,961" stroke="#000" stroke-width="1.8" fill="none"/><rect x="265.76" y="930.8" width="69.45" height="30.16" fill="none" stroke="#000" stroke-width="1.7"/>
<text class="sb" transform="translate(342.3,956.6) scale(0.7784,1)" font-size="34.5">LA80</text>
<rect x="413.55" y="930.8" width="69.45" height="30.16" fill="#ffff00"/><path d="M413.6,931.8L414.3,930.8M413.6,950.4L429.2,930.8M419.9,961L444,930.8M434.8,961L458.9,930.8M449.6,961L473.7,930.8M464.5,961L483,937.7M479.3,961L483,956.3M472.9,930.8L483,943.4M458.1,930.8L482.1,961M443.2,930.8L467.3,961M428.4,930.8L452.5,961M413.6,930.8L437.6,961M413.6,949.4L422.8,961" stroke="#000" stroke-width="1.7" fill="none"/><rect x="413.55" y="930.8" width="69.45" height="30.16" fill="none" stroke="#000" stroke-width="1.7"/>
<text class="sb" transform="translate(489.49,956.6) scale(0.7784,1)" font-size="34.5">LA100</text>
<text class="sb" transform="translate(111.4,1007.2) scale(0.7823,1)" font-size="34.5">Injection timing:23<tspan font-size="20.7" dy="-18.8">0</tspan><tspan dy="18.8"> bTDC, Speed:1500 rpm, CR:17.5</tspan></text>
<text class="sb m" transform="translate(462.5,1644.3) scale(0.804,1)" font-size="31">Load, %</text>
<text class="sb m" transform="translate(23.5,1235.3) rotate(-90) scale(1.0097,0.88)" font-size="31.1">CO<tspan font-size="17.42" dy="9.95">2</tspan><tspan dy="-9.95"> emission</tspan></text>
<text class="cp" transform="translate(203,1700.6)" font-size="37.5">(c) Injection timing 23º bTDC.</text>
</g>
<g id="panel-d">
<path d="M926,876.65 H1647.6 V1549.8 H926 M936.5,875.35 V1551.1" fill="none" stroke="#000" stroke-width="2.6"/>
<text class="tk e" transform="translate(919,1556.1) scale(0.721,1)" font-size="28.5">0</text>
<text class="tk e" transform="translate(919,1459.94) scale(0.721,1)" font-size="28.5">500</text>
<text class="tk e" transform="translate(919,1363.77) scale(0.721,1)" font-size="28.5">1000</text>
<text class="tk e" transform="translate(919,1267.61) scale(0.721,1)" font-size="28.5">1500</text>
<text class="tk e" transform="translate(919,1171.44) scale(0.721,1)" font-size="28.5">2000</text>
<text class="tk e" transform="translate(919,1075.28) scale(0.721,1)" font-size="28.5">2500</text>
<text class="tk e" transform="translate(919,979.11) scale(0.721,1)" font-size="28.5">3000</text>
<text class="tk e" transform="translate(919,882.95) scale(0.721,1)" font-size="28.5">3500</text>
<text class="tk m" transform="translate(1025.59,1591.2) scale(0.721,1)" font-size="28.5">25</text>
<text class="tk m" transform="translate(1203.36,1591.2) scale(0.721,1)" font-size="28.5">50</text>
<text class="tk m" transform="translate(1381.14,1591.2) scale(0.721,1)" font-size="28.5">75</text>
<text class="tk m" transform="translate(1558.91,1591.2) scale(0.721,1)" font-size="28.5">100</text>
<path d="M926,1453.64 H936.5 M926,1357.47 H936.5 M926,1261.31 H936.5 M926,1165.14 H936.5 M926,1068.98 H936.5 M926,972.81 H936.5 M1025.59,1549.8 V1563.2 M1203.36,1549.8 V1563.2 M1381.14,1549.8 V1563.2 M1558.91,1549.8 V1563.2" fill="none" stroke="#000" stroke-width="2.7"/>
<rect x="954.4" y="1179.9" width="23.65" height="369.9" fill="#ff0000"/><path d="M954.4,1180.9L955.2,1179.9M954.4,1189.6L962,1179.9M954.4,1198.3L968.8,1179.9M954.4,1207L975.7,1179.9M954.4,1215.6L978,1185.6M954.4,1224.3L978,1194.2M954.4,1233L978,1202.9M954.4,1241.7L978,1211.6M954.4,1250.4L978,1220.3M954.4,1259L978,1229M954.4,1267.7L978,1237.6M954.4,1276.4L978,1246.3M954.4,1285.1L978,1255M954.4,1293.8L978,1263.7M954.4,1302.4L978,1272.4M954.4,1311.1L978,1281M954.4,1319.8L978,1289.7M954.4,1328.5L978,1298.4M954.4,1337.2L978,1307.1M954.4,1345.8L978,1315.8M954.4,1354.5L978,1324.4M954.4,1363.2L978,1333.1M954.4,1371.9L978,1341.8M954.4,1380.6L978,1350.5M954.4,1389.2L978,1359.2M954.4,1397.9L978,1367.8M954.4,1406.6L978,1376.5M954.4,1415.3L978,1385.2M954.4,1424L978,1393.9M954.4,1432.7L978,1402.6M954.4,1441.3L978,1411.3M954.4,1450L978,1419.9M954.4,1458.7L978,1428.6M954.4,1467.4L978,1437.3M954.4,1476.1L978,1446M954.4,1484.7L978,1454.7M954.4,1493.4L978,1463.3M954.4,1502.1L978,1472M954.4,1510.8L978,1480.7M954.4,1519.5L978,1489.4M954.4,1528.1L978,1498.1M954.4,1536.8L978,1506.7M954.4,1545.5L978,1515.4M957.8,1549.8L978,1524.1M964.7,1549.8L978,1532.8M971.5,1549.8L978,1541.5" stroke="#000" stroke-width="1.8" fill="none"/><rect x="954.4" y="1179.9" width="23.65" height="369.9" fill="none" stroke="#000" stroke-width="1.6"/>
<rect x="978.05" y="1175.8" width="23.65" height="374" fill="#00ff00"/><path d="M978,1176.8L978.8,1175.8M978,1189.3L988.8,1175.8M978,1201.7L998.7,1175.8M978,1214.2L1001.7,1184.4M978,1226.7L1001.7,1196.9M978,1239.2L1001.7,1209.4M978,1251.6L1001.7,1221.9M978,1264.1L1001.7,1234.3M978,1276.6L1001.7,1246.8M978,1289L1001.7,1259.3M978,1301.5L1001.7,1271.7M978,1314L1001.7,1284.2M978,1326.5L1001.7,1296.7M978,1338.9L1001.7,1309.2M978,1351.4L1001.7,1321.6M978,1363.9L1001.7,1334.1M978,1376.3L1001.7,1346.6M978,1388.8L1001.7,1359M978,1401.3L1001.7,1371.5M978,1413.7L1001.7,1384M978,1426.2L1001.7,1396.4M978,1438.7L1001.7,1408.9M978,1451.2L1001.7,1421.4M978,1463.6L1001.7,1433.9M978,1476.1L1001.7,1446.3M978,1488.6L1001.7,1458.8M978,1501L1001.7,1471.3M978,1513.5L1001.7,1483.7M978,1526L1001.7,1496.2M978,1538.5L1001.7,1508.7M978.9,1549.8L1001.7,1521.2M988.9,1549.8L1001.7,1533.6M998.8,1549.8L1001.7,1546.1M997.9,1175.8L1001.7,1180.6M988,1175.8L1001.7,1193.1M978.1,1175.8L1001.7,1205.6M978,1188.3L1001.7,1218M978,1200.7L1001.7,1230.5M978,1213.2L1001.7,1243M978,1225.7L1001.7,1255.4M978,1238.2L1001.7,1267.9M978,1250.6L1001.7,1280.4M978,1263.1L1001.7,1292.9M978,1275.6L1001.7,1305.3M978,1288L1001.7,1317.8M978,1300.5L1001.7,1330.3M978,1313L1001.7,1342.7M978,1325.4L1001.7,1355.2M978,1337.9L1001.7,1367.7M978,1350.4L1001.7,1380.2M978,1362.9L1001.7,1392.6M978,1375.3L1001.7,1405.1M978,1387.8L1001.7,1417.6M978,1400.3L1001.7,1430M978,1412.7L1001.7,1442.5M978,1425.2L1001.7,1455M978,1437.7L1001.7,1467.5M978,1450.2L1001.7,1479.9M978,1462.6L1001.7,1492.4M978,1475.1L1001.7,1504.9M978,1487.6L1001.7,1517.3M978,1500L1001.7,1529.8M978,1512.5L1001.7,1542.3M978,1525L997.8,1549.8M978,1537.4L987.9,1549.8" stroke="#000" stroke-width="1.7" fill="none"/><rect x="978.05" y="1175.8" width="23.65" height="374" fill="none" stroke="#000" stroke-width="1.6"/>
<rect x="1001.7" y="1155.2" width="23.65" height="394.6" fill="#0000ff"/><path d="M1012.5,1155.2V1549.8M1022.8,1155.2V1549.8M1001.7,1155.7H1025.3M1001.7,1168.9H1025.3M1001.7,1182.1H1025.3M1001.7,1195.4H1025.3M1001.7,1208.6H1025.3M1001.7,1221.8H1025.3M1001.7,1235H1025.3M1001.7,1248.2H1025.3M1001.7,1261.5H1025.3M1001.7,1274.7H1025.3M1001.7,1287.9H1025.3M1001.7,1301.1H1025.3M1001.7,1314.3H1025.3M1001.7,1327.6H1025.3M1001.7,1340.8H1025.3M1001.7,1354H1025.3M1001.7,1367.2H1025.3M1001.7,1380.4H1025.3M1001.7,1393.7H1025.3M1001.7,1406.9H1025.3M1001.7,1420.1H1025.3M1001.7,1433.3H1025.3M1001.7,1446.5H1025.3M1001.7,1459.8H1025.3M1001.7,1473H1025.3M1001.7,1486.2H1025.3M1001.7,1499.4H1025.3M1001.7,1512.6H1025.3M1001.7,1525.9H1025.3M1001.7,1539.1H1025.3" stroke="#000" stroke-width="1.6" fill="none"/><rect x="1001.7" y="1155.2" width="23.65" height="394.6" fill="none" stroke="#000" stroke-width="1.6"/>
<rect x="1025.35" y="1133.2" width="23.65" height="416.6" fill="#00ffff"/><path d="M1032.7,1133.2V1549.8M1039.7,1133.2V1549.8M1046.7,1133.2V1549.8" stroke="#000" stroke-width="1.6" fill="none"/><rect x="1025.35" y="1133.2" width="23.65" height="416.6" fill="none" stroke="#000" stroke-width="1.6"/>
<rect x="1049" y="1098.6" width="23.65" height="451.2" fill="#ff00ff"/><path d="M1069.2,1098.6L1072.6,1102.9M1059.1,1098.6L1072.6,1115.4M1049,1098.6L1072.6,1127.8M1049,1111.1L1072.6,1140.3M1049,1123.5L1072.6,1152.8M1049,1136L1072.6,1165.3M1049,1148.5L1072.6,1177.7M1049,1161L1072.6,1190.2M1049,1173.4L1072.6,1202.7M1049,1185.9L1072.6,1215.1M1049,1198.4L1072.6,1227.6M1049,1210.8L1072.6,1240.1M1049,1223.3L1072.6,1252.6M1049,1235.8L1072.6,1265M1049,1248.3L1072.6,1277.5M1049,1260.7L1072.6,1290M1049,1273.2L1072.6,1302.4M1049,1285.7L1072.6,1314.9M1049,1298.1L1072.6,1327.4M1049,1310.6L1072.6,1339.8M1049,1323.1L1072.6,1352.3M1049,1335.6L1072.6,1364.8M1049,1348L1072.6,1377.3M1049,1360.5L1072.6,1389.7M1049,1373L1072.6,1402.2M1049,1385.4L1072.6,1414.7M1049,1397.9L1072.6,1427.1M1049,1410.4L1072.6,1439.6M1049,1422.8L1072.6,1452.1M1049,1435.3L1072.6,1464.6M1049,1447.8L1072.6,1477M1049,1460.3L1072.6,1489.5M1049,1472.7L1072.6,1502M1049,1485.2L1072.6,1514.4M1049,1497.7L1072.6,1526.9M1049,1510.1L1072.6,1539.4M1049,1522.6L1071,1549.8M1049,1535.1L1060.9,1549.8M1049,1547.6L1050.8,1549.8" stroke="#000" stroke-width="1.8" fill="none"/><rect x="1049" y="1098.6" width="23.65" height="451.2" fill="none" stroke="#000" stroke-width="1.6"/>
<rect x="1072.65" y="1071.1" width="23.65" height="478.7" fill="#ffff00"/><path d="M1072.6,1072.1L1073.5,1071.1M1072.6,1090.6L1088.3,1071.1M1072.6,1109.1L1096.3,1079.7M1072.6,1127.7L1096.3,1098.2M1072.6,1146.2L1096.3,1116.7M1072.6,1164.7L1096.3,1135.3M1072.6,1183.2L1096.3,1153.8M1072.6,1201.8L1096.3,1172.3M1072.6,1220.3L1096.3,1190.8M1072.6,1238.8L1096.3,1209.4M1072.6,1257.3L1096.3,1227.9M1072.6,1275.8L1096.3,1246.4M1072.6,1294.4L1096.3,1264.9M1072.6,1312.9L1096.3,1283.5M1072.6,1331.4L1096.3,1302M1072.6,1349.9L1096.3,1320.5M1072.6,1368.5L1096.3,1339M1072.6,1387L1096.3,1357.5M1072.6,1405.5L1096.3,1376.1M1072.6,1424L1096.3,1394.6M1072.6,1442.6L1096.3,1413.1M1072.6,1461.1L1096.3,1431.6M1072.6,1479.6L1096.3,1450.2M1072.6,1498.1L1096.3,1468.7M1072.6,1516.6L1096.3,1487.2M1072.6,1535.2L1096.3,1505.7M1075.8,1549.8L1096.3,1524.2M1090.7,1549.8L1096.3,1542.8M1087.5,1071.1L1096.3,1082M1072.6,1071.1L1096.3,1100.5M1072.6,1089.6L1096.3,1119.1M1072.6,1108.1L1096.3,1137.6M1072.6,1126.7L1096.3,1156.1M1072.6,1145.2L1096.3,1174.6M1072.6,1163.7L1096.3,1193.2M1072.6,1182.2L1096.3,1211.7M1072.6,1200.8L1096.3,1230.2M1072.6,1219.3L1096.3,1248.7M1072.6,1237.8L1096.3,1267.2M1072.6,1256.3L1096.3,1285.8M1072.6,1274.9L1096.3,1304.3M1072.6,1293.4L1096.3,1322.8M1072.6,1311.9L1096.3,1341.3M1072.6,1330.4L1096.3,1359.9M1072.6,1348.9L1096.3,1378.4M1072.6,1367.5L1096.3,1396.9M1072.6,1386L1096.3,1415.4M1072.6,1404.5L1096.3,1433.9M1072.6,1423L1096.3,1452.5M1072.6,1441.6L1096.3,1471M1072.6,1460.1L1096.3,1489.5M1072.6,1478.6L1096.3,1508M1072.6,1497.1L1096.3,1526.6M1072.6,1515.6L1096.3,1545.1M1072.6,1534.2L1085.2,1549.8" stroke="#000" stroke-width="1.7" fill="none"/><rect x="1072.65" y="1071.1" width="23.65" height="478.7" fill="none" stroke="#000" stroke-width="1.6"/>
<rect x="1132.2" y="1366" width="23.65" height="183.8" fill="#ff0000"/><path d="M1132.2,1367L1133,1366M1132.2,1375.7L1139.8,1366M1132.2,1384.4L1146.6,1366M1132.2,1393.1L1153.5,1366M1132.2,1401.7L1155.9,1371.7M1132.2,1410.4L1155.9,1380.3M1132.2,1419.1L1155.9,1389M1132.2,1427.8L1155.9,1397.7M1132.2,1436.5L1155.9,1406.4M1132.2,1445.1L1155.9,1415.1M1132.2,1453.8L1155.9,1423.7M1132.2,1462.5L1155.9,1432.4M1132.2,1471.2L1155.9,1441.1M1132.2,1479.9L1155.9,1449.8M1132.2,1488.5L1155.9,1458.5M1132.2,1497.2L1155.9,1467.1M1132.2,1505.9L1155.9,1475.8M1132.2,1514.6L1155.9,1484.5M1132.2,1523.3L1155.9,1493.2M1132.2,1531.9L1155.9,1501.9M1132.2,1540.6L1155.9,1510.5M1132.2,1549.3L1155.9,1519.2M1138.6,1549.8L1155.9,1527.9M1145.5,1549.8L1155.9,1536.6M1152.3,1549.8L1155.9,1545.3" stroke="#000" stroke-width="1.8" fill="none"/><rect x="1132.2" y="1366" width="23.65" height="183.8" fill="none" stroke="#000" stroke-width="1.6"/>
<rect x="1155.85" y="1365.1" width="23.65" height="184.7" fill="#00ff00"/><path d="M1155.9,1366.1L1156.6,1365.1M1155.9,1378.6L1166.6,1365.1M1155.9,1391L1176.5,1365.1M1155.9,1403.5L1179.5,1373.7M1155.9,1416L1179.5,1386.2M1155.9,1428.5L1179.5,1398.7M1155.9,1440.9L1179.5,1411.2M1155.9,1453.4L1179.5,1423.6M1155.9,1465.9L1179.5,1436.1M1155.9,1478.3L1179.5,1448.6M1155.9,1490.8L1179.5,1461M1155.9,1503.3L1179.5,1473.5M1155.9,1515.8L1179.5,1486M1155.9,1528.2L1179.5,1498.5M1155.9,1540.7L1179.5,1510.9M1158.5,1549.8L1179.5,1523.4M1168.4,1549.8L1179.5,1535.9M1178.3,1549.8L1179.5,1548.3M1175.7,1365.1L1179.5,1369.9M1165.8,1365.1L1179.5,1382.4M1155.9,1365.1L1179.5,1394.9M1155.9,1377.6L1179.5,1407.3M1155.9,1390L1179.5,1419.8M1155.9,1402.5L1179.5,1432.3M1155.9,1415L1179.5,1444.7M1155.9,1427.5L1179.5,1457.2M1155.9,1439.9L1179.5,1469.7M1155.9,1452.4L1179.5,1482.2M1155.9,1464.9L1179.5,1494.6M1155.9,1477.3L1179.5,1507.1M1155.9,1489.8L1179.5,1519.6M1155.9,1502.3L1179.5,1532M1155.9,1514.7L1179.5,1544.5M1155.9,1527.2L1173.8,1549.8M1155.9,1539.7L1163.9,1549.8" stroke="#000" stroke-width="1.7" fill="none"/><rect x="1155.85" y="1365.1" width="23.65" height="184.7" fill="none" stroke="#000" stroke-width="1.6"/>
<rect x="1179.5" y="1364" width="23.65" height="185.8" fill="#0000ff"/><path d="M1190.3,1364V1549.8M1200.6,1364V1549.8M1179.5,1364.5H1203.2M1179.5,1377.7H1203.2M1179.5,1390.9H1203.2M1179.5,1404.2H1203.2M1179.5,1417.4H1203.2M1179.5,1430.6H1203.2M1179.5,1443.8H1203.2M1179.5,1457H1203.2M1179.5,1470.3H1203.2M1179.5,1483.5H1203.2M1179.5,1496.7H1203.2M1179.5,1509.9H1203.2M1179.5,1523.1H1203.2M1179.5,1536.4H1203.2" stroke="#000" stroke-width="1.6" fill="none"/><rect x="1179.5" y="1364" width="23.65" height="185.8" fill="none" stroke="#000" stroke-width="1.6"/>
<rect x="1203.15" y="1361.3" width="23.65" height="188.5" fill="#00ffff"/><path d="M1210.5,1361.3V1549.8M1217.5,1361.3V1549.8M1224.5,1361.3V1549.8" stroke="#000" stroke-width="1.6" fill="none"/><rect x="1203.15" y="1361.3" width="23.65" height="188.5" fill="none" stroke="#000" stroke-width="1.6"/>
<rect x="1226.8" y="1360.1" width="23.65" height="189.7" fill="#ff00ff"/><path d="M1247,1360.1L1250.5,1364.4M1236.9,1360.1L1250.5,1376.9M1226.8,1360.1L1250.5,1389.3M1226.8,1372.6L1250.5,1401.8M1226.8,1385L1250.5,1414.3M1226.8,1397.5L1250.5,1426.8M1226.8,1410L1250.5,1439.2M1226.8,1422.5L1250.5,1451.7M1226.8,1434.9L1250.5,1464.2M1226.8,1447.4L1250.5,1476.6M1226.8,1459.9L1250.5,1489.1M1226.8,1472.3L1250.5,1501.6M1226.8,1484.8L1250.5,1514.1M1226.8,1497.3L1250.5,1526.5M1226.8,1509.8L1250.5,1539M1226.8,1522.2L1249.1,1549.8M1226.8,1534.7L1239,1549.8M1226.8,1547.2L1228.9,1549.8" stroke="#000" stroke-width="1.8" fill="none"/><rect x="1226.8" y="1360.1" width="23.65" height="189.7" fill="none" stroke="#000" stroke-width="1.6"/>
<rect x="1250.45" y="1336.3" width="23.65" height="213.5" fill="#ffff00"/><path d="M1250.5,1337.3L1251.3,1336.3M1250.5,1355.8L1266.1,1336.3M1250.5,1374.3L1274.1,1344.9M1250.5,1392.9L1274.1,1363.4M1250.5,1411.4L1274.1,1381.9M1250.5,1429.9L1274.1,1400.5M1250.5,1448.4L1274.1,1419M1250.5,1467L1274.1,1437.5M1250.5,1485.5L1274.1,1456M1250.5,1504L1274.1,1474.6M1250.5,1522.5L1274.1,1493.1M1250.5,1541L1274.1,1511.6M1258.3,1549.8L1274.1,1530.1M1273.2,1549.8L1274.1,1548.7M1265.3,1336.3L1274.1,1347.2M1250.5,1336.3L1274.1,1365.7M1250.5,1354.8L1274.1,1384.3M1250.5,1373.3L1274.1,1402.8M1250.5,1391.9L1274.1,1421.3M1250.5,1410.4L1274.1,1439.8M1250.5,1428.9L1274.1,1458.4M1250.5,1447.4L1274.1,1476.9M1250.5,1466L1274.1,1495.4M1250.5,1484.5L1274.1,1513.9M1250.5,1503L1274.1,1532.4M1250.5,1521.5L1273.2,1549.8M1250.5,1540.1L1258.3,1549.8" stroke="#000" stroke-width="1.7" fill="none"/><rect x="1250.45" y="1336.3" width="23.65" height="213.5" fill="none" stroke="#000" stroke-width="1.6"/>
<rect x="1310.1" y="1386" width="23.65" height="163.8" fill="#ff0000"/><path d="M1310.1,1387L1310.9,1386M1310.1,1395.7L1317.7,1386M1310.1,1404.4L1324.5,1386M1310.1,1413.1L1331.4,1386M1310.1,1421.7L1333.8,1391.7M1310.1,1430.4L1333.8,1400.3M1310.1,1439.1L1333.8,1409M1310.1,1447.8L1333.8,1417.7M1310.1,1456.5L1333.8,1426.4M1310.1,1465.1L1333.8,1435.1M1310.1,1473.8L1333.8,1443.7M1310.1,1482.5L1333.8,1452.4M1310.1,1491.2L1333.8,1461.1M1310.1,1499.9L1333.8,1469.8M1310.1,1508.5L1333.8,1478.5M1310.1,1517.2L1333.8,1487.1M1310.1,1525.9L1333.8,1495.8M1310.1,1534.6L1333.8,1504.5M1310.1,1543.3L1333.8,1513.2M1311.8,1549.8L1333.8,1521.9M1318.6,1549.8L1333.8,1530.5M1325.4,1549.8L1333.8,1539.2M1332.3,1549.8L1333.8,1547.9" stroke="#000" stroke-width="1.8" fill="none"/><rect x="1310.1" y="1386" width="23.65" height="163.8" fill="none" stroke="#000" stroke-width="1.6"/>
<rect x="1333.75" y="1384" width="23.65" height="165.8" fill="#00ff00"/><path d="M1333.8,1385L1334.5,1384M1333.8,1397.5L1344.5,1384M1333.8,1409.9L1354.4,1384M1333.8,1422.4L1357.4,1392.6M1333.8,1434.9L1357.4,1405.1M1333.8,1447.4L1357.4,1417.6M1333.8,1459.8L1357.4,1430.1M1333.8,1472.3L1357.4,1442.5M1333.8,1484.8L1357.4,1455M1333.8,1497.2L1357.4,1467.5M1333.8,1509.7L1357.4,1479.9M1333.8,1522.2L1357.4,1492.4M1333.8,1534.7L1357.4,1504.9M1333.8,1547.1L1357.4,1517.4M1341.5,1549.8L1357.4,1529.8M1351.4,1549.8L1357.4,1542.3M1353.6,1384L1357.4,1388.8M1343.7,1384L1357.4,1401.3M1333.8,1384L1357.4,1413.8M1333.8,1396.5L1357.4,1426.2M1333.8,1408.9L1357.4,1438.7M1333.8,1421.4L1357.4,1451.2M1333.8,1433.9L1357.4,1463.6M1333.8,1446.4L1357.4,1476.1M1333.8,1458.8L1357.4,1488.6M1333.8,1471.3L1357.4,1501.1M1333.8,1483.8L1357.4,1513.5M1333.8,1496.2L1357.4,1526M1333.8,1508.7L1357.4,1538.5M1333.8,1521.2L1356.5,1549.8M1333.8,1533.6L1346.6,1549.8M1333.8,1546.1L1336.7,1549.8" stroke="#000" stroke-width="1.7" fill="none"/><rect x="1333.75" y="1384" width="23.65" height="165.8" fill="none" stroke="#000" stroke-width="1.6"/>
<rect x="1357.4" y="1382.4" width="23.65" height="167.4" fill="#0000ff"/><path d="M1368.2,1382.4V1549.8M1378.5,1382.4V1549.8M1357.4,1382.9H1381M1357.4,1396.1H1381M1357.4,1409.3H1381M1357.4,1422.6H1381M1357.4,1435.8H1381M1357.4,1449H1381M1357.4,1462.2H1381M1357.4,1475.4H1381M1357.4,1488.7H1381M1357.4,1501.9H1381M1357.4,1515.1H1381M1357.4,1528.3H1381M1357.4,1541.5H1381" stroke="#000" stroke-width="1.6" fill="none"/><rect x="1357.4" y="1382.4" width="23.65" height="167.4" fill="none" stroke="#000" stroke-width="1.6"/>
<rect x="1381.05" y="1382.4" width="23.65" height="167.4" fill="#00ffff"/><path d="M1388.4,1382.4V1549.8M1395.4,1382.4V1549.8M1402.4,1382.4V1549.8" stroke="#000" stroke-width="1.6" fill="none"/><rect x="1381.05" y="1382.4" width="23.65" height="167.4" fill="none" stroke="#000" stroke-width="1.6"/>
<rect x="1404.7" y="1379.7" width="23.65" height="170.1" fill="#ff00ff"/><path d="M1424.9,1379.7L1428.3,1384M1414.8,1379.7L1428.3,1396.5M1404.7,1379.7L1428.3,1408.9M1404.7,1392.2L1428.3,1421.4M1404.7,1404.6L1428.3,1433.9M1404.7,1417.1L1428.3,1446.4M1404.7,1429.6L1428.3,1458.8M1404.7,1442.1L1428.3,1471.3M1404.7,1454.5L1428.3,1483.8M1404.7,1467L1428.3,1496.2M1404.7,1479.5L1428.3,1508.7M1404.7,1491.9L1428.3,1521.2M1404.7,1504.4L1428.3,1533.7M1404.7,1516.9L1428.3,1546.1M1404.7,1529.4L1421.2,1549.8M1404.7,1541.8L1411.2,1549.8" stroke="#000" stroke-width="1.8" fill="none"/><rect x="1404.7" y="1379.7" width="23.65" height="170.1" fill="none" stroke="#000" stroke-width="1.6"/>
<rect x="1428.35" y="1364" width="23.65" height="185.8" fill="#ffff00"/><path d="M1428.3,1365L1429.2,1364M1428.3,1383.5L1444,1364M1428.3,1402L1452,1372.6M1428.3,1420.6L1452,1391.1M1428.3,1439.1L1452,1409.6M1428.3,1457.6L1452,1428.2M1428.3,1476.1L1452,1446.7M1428.3,1494.7L1452,1465.2M1428.3,1513.2L1452,1483.7M1428.3,1531.7L1452,1502.3M1428.7,1549.8L1452,1520.8M1443.6,1549.8L1452,1539.3M1443.2,1364L1452,1374.9M1428.3,1364L1452,1393.4M1428.3,1382.5L1452,1412M1428.3,1401L1452,1430.5M1428.3,1419.6L1452,1449M1428.3,1438.1L1452,1467.5M1428.3,1456.6L1452,1486.1M1428.3,1475.1L1452,1504.6M1428.3,1493.7L1452,1523.1M1428.3,1512.2L1452,1541.6M1428.3,1530.7L1443.7,1549.8M1428.3,1549.2L1428.8,1549.8" stroke="#000" stroke-width="1.7" fill="none"/><rect x="1428.35" y="1364" width="23.65" height="185.8" fill="none" stroke="#000" stroke-width="1.6"/>
<rect x="1487.75" y="1392.8" width="23.65" height="157" fill="#ff0000"/><path d="M1487.8,1393.8L1488.5,1392.8M1487.8,1402.5L1495.4,1392.8M1487.8,1411.2L1502.2,1392.8M1487.8,1419.9L1509,1392.8M1487.8,1428.5L1511.4,1398.5M1487.8,1437.2L1511.4,1407.1M1487.8,1445.9L1511.4,1415.8M1487.8,1454.6L1511.4,1424.5M1487.8,1463.3L1511.4,1433.2M1487.8,1471.9L1511.4,1441.9M1487.8,1480.6L1511.4,1450.5M1487.8,1489.3L1511.4,1459.2M1487.8,1498L1511.4,1467.9M1487.8,1506.7L1511.4,1476.6M1487.8,1515.3L1511.4,1485.3M1487.8,1524L1511.4,1493.9M1487.8,1532.7L1511.4,1502.6M1487.8,1541.4L1511.4,1511.3M1488,1549.8L1511.4,1520M1494.8,1549.8L1511.4,1528.7M1501.6,1549.8L1511.4,1537.3M1508.4,1549.8L1511.4,1546" stroke="#000" stroke-width="1.8" fill="none"/><rect x="1487.75" y="1392.8" width="23.65" height="157" fill="none" stroke="#000" stroke-width="1.6"/>
<rect x="1511.4" y="1390.2" width="23.65" height="159.6" fill="#00ff00"/><path d="M1511.4,1391.2L1512.2,1390.2M1511.4,1403.7L1522.1,1390.2M1511.4,1416.1L1532,1390.2M1511.4,1428.6L1535.1,1398.8M1511.4,1441.1L1535.1,1411.3M1511.4,1453.6L1535.1,1423.8M1511.4,1466L1535.1,1436.3M1511.4,1478.5L1535.1,1448.7M1511.4,1491L1535.1,1461.2M1511.4,1503.4L1535.1,1473.7M1511.4,1515.9L1535.1,1486.1M1511.4,1528.4L1535.1,1498.6M1511.4,1540.9L1535.1,1511.1M1514.2,1549.8L1535.1,1523.6M1524.1,1549.8L1535.1,1536M1534,1549.8L1535.1,1548.5M1531.2,1390.2L1535.1,1395M1521.3,1390.2L1535.1,1407.5M1511.4,1390.2L1535.1,1420M1511.4,1402.7L1535.1,1432.4M1511.4,1415.1L1535.1,1444.9M1511.4,1427.6L1535.1,1457.4M1511.4,1440.1L1535.1,1469.8M1511.4,1452.6L1535.1,1482.3M1511.4,1465L1535.1,1494.8M1511.4,1477.5L1535.1,1507.3M1511.4,1490L1535.1,1519.7M1511.4,1502.4L1535.1,1532.2M1511.4,1514.9L1535.1,1544.7M1511.4,1527.4L1529.2,1549.8M1511.4,1539.8L1519.3,1549.8" stroke="#000" stroke-width="1.7" fill="none"/><rect x="1511.4" y="1390.2" width="23.65" height="159.6" fill="none" stroke="#000" stroke-width="1.6"/>
<rect x="1535.05" y="1387.9" width="23.65" height="161.9" fill="#0000ff"/><path d="M1545.8,1387.9V1549.8M1556.2,1387.9V1549.8M1535,1388.4H1558.7M1535,1401.6H1558.7M1535,1414.8H1558.7M1535,1428.1H1558.7M1535,1441.3H1558.7M1535,1454.5H1558.7M1535,1467.7H1558.7M1535,1480.9H1558.7M1535,1494.2H1558.7M1535,1507.4H1558.7M1535,1520.6H1558.7M1535,1533.8H1558.7M1535,1547H1558.7" stroke="#000" stroke-width="1.6" fill="none"/><rect x="1535.05" y="1387.9" width="23.65" height="161.9" fill="none" stroke="#000" stroke-width="1.6"/>
<rect x="1558.7" y="1387.9" width="23.65" height="161.9" fill="#00ffff"/><path d="M1566.1,1387.9V1549.8M1573.1,1387.9V1549.8M1580.1,1387.9V1549.8" stroke="#000" stroke-width="1.6" fill="none"/><rect x="1558.7" y="1387.9" width="23.65" height="161.9" fill="none" stroke="#000" stroke-width="1.6"/>
<rect x="1582.35" y="1386.2" width="23.65" height="163.6" fill="#ff00ff"/><path d="M1602.5,1386.2L1606,1390.5M1592.4,1386.2L1606,1403M1582.3,1386.2L1606,1415.4M1582.3,1398.7L1606,1427.9M1582.3,1411.1L1606,1440.4M1582.3,1423.6L1606,1452.9M1582.3,1436.1L1606,1465.3M1582.3,1448.6L1606,1477.8M1582.3,1461L1606,1490.3M1582.3,1473.5L1606,1502.7M1582.3,1486L1606,1515.2M1582.3,1498.4L1606,1527.7M1582.3,1510.9L1606,1540.2M1582.3,1523.4L1603.7,1549.8M1582.3,1535.9L1593.6,1549.8M1582.3,1548.3L1583.5,1549.8" stroke="#000" stroke-width="1.8" fill="none"/><rect x="1582.35" y="1386.2" width="23.65" height="163.6" fill="none" stroke="#000" stroke-width="1.6"/>
<rect x="1606" y="1375.9" width="23.65" height="173.9" fill="#ffff00"/><path d="M1606,1376.9L1606.8,1375.9M1606,1395.4L1621.7,1375.9M1606,1413.9L1629.7,1384.5M1606,1432.5L1629.7,1403M1606,1451L1629.7,1421.5M1606,1469.5L1629.7,1440.1M1606,1488L1629.7,1458.6M1606,1506.6L1629.7,1477.1M1606,1525.1L1629.7,1495.6M1606,1543.6L1629.7,1514.2M1615.9,1549.8L1629.7,1532.7M1620.9,1375.9L1629.7,1386.8M1606,1375.9L1629.7,1405.3M1606,1394.4L1629.7,1423.9M1606,1412.9L1629.7,1442.4M1606,1431.5L1629.7,1460.9M1606,1450L1629.7,1479.4M1606,1468.5L1629.7,1498M1606,1487L1629.7,1516.5M1606,1505.6L1629.7,1535M1606,1524.1L1626.7,1549.8M1606,1542.6L1611.8,1549.8" stroke="#000" stroke-width="1.7" fill="none"/><rect x="1606" y="1375.9" width="23.65" height="173.9" fill="none" stroke="#000" stroke-width="1.6"/>
<rect x="941.4" y="888.05" width="69.65" height="30.06" fill="#ff0000"/><path d="M941.4,889.1L942.2,888M941.4,897.7L949,888M941.4,906.4L955.8,888M941.4,915.1L962.7,888M945.9,918.1L969.5,888M952.7,918.1L976.3,888M959.5,918.1L983.1,888M966.3,918.1L990,888M973.2,918.1L996.8,888M980,918.1L1003.6,888M986.8,918.1L1010.4,888M993.6,918.1L1011.1,896M1000.5,918.1L1011.1,904.6M1007.3,918.1L1011.1,913.3" stroke="#000" stroke-width="1.8" fill="none"/><rect x="941.4" y="888.05" width="69.65" height="30.06" fill="none" stroke="#000" stroke-width="1.7"/>
<text class="sb" transform="translate(1025.76,914.35) scale(0.7805,1)" font-size="34.5">B0</text>
<rect x="1063.49" y="888.05" width="69.65" height="30.06" fill="#00ff00"/><path d="M1063.5,889.1L1064.3,888M1063.5,901.5L1074.2,888M1063.5,914L1084.1,888M1070.1,918.1L1094,888M1080,918.1L1103.9,888M1089.9,918.1L1113.8,888M1099.8,918.1L1123.7,888M1109.8,918.1L1133.1,888.7M1119.7,918.1L1133.1,901.1M1129.6,918.1L1133.1,913.6M1132.8,888L1133.1,888.4M1122.9,888L1133.1,900.9M1113,888L1133.1,913.4M1103.1,888L1127,918.1M1093.2,888L1117.1,918.1M1083.3,888L1107.2,918.1M1073.4,888L1097.3,918.1M1063.5,888L1087.4,918.1M1063.5,900.5L1077.5,918.1M1063.5,913L1067.6,918.1" stroke="#000" stroke-width="1.7" fill="none"/><rect x="1063.49" y="888.05" width="69.65" height="30.06" fill="none" stroke="#000" stroke-width="1.7"/>
<text class="sb" transform="translate(1140.14,914.35) scale(0.7805,1)" font-size="34.5">LA20</text>
<rect x="1211.49" y="888.05" width="69.65" height="30.06" fill="#0000ff"/><path d="M1222.3,888V918.1M1232.6,888V918.1M1243,888V918.1M1253.4,888V918.1M1263.7,888V918.1M1274.1,888V918.1M1211.5,888.5H1281.1M1211.5,901.8H1281.1M1211.5,915H1281.1" stroke="#000" stroke-width="1.6" fill="none"/><rect x="1211.49" y="888.05" width="69.65" height="30.06" fill="none" stroke="#000" stroke-width="1.7"/>
<text class="sb" transform="translate(1288.05,914.35) scale(0.7805,1)" font-size="34.5">LA40</text>
<rect x="941.4" y="930.85" width="69.65" height="30.06" fill="#00ffff"/><path d="M948.8,930.8V960.9M955.8,930.8V960.9M962.8,930.8V960.9M969.7,930.8V960.9M976.7,930.8V960.9M983.7,930.8V960.9M990.7,930.8V960.9M997.7,930.8V960.9M1004.7,930.8V960.9" stroke="#000" stroke-width="1.6" fill="none"/><rect x="941.4" y="930.85" width="69.65" height="30.06" fill="none" stroke="#000" stroke-width="1.7"/>
<text class="sb" transform="translate(1025.76,956.65) scale(0.7805,1)" font-size="34.5">LA60</text>
<rect x="1096.31" y="930.85" width="69.65" height="30.06" fill="#ff00ff"/><path d="M1156.8,930.8L1166,942.1M1146.7,930.8L1166,954.6M1136.7,930.8L1161,960.9M1126.6,930.8L1150.9,960.9M1116.5,930.8L1140.8,960.9M1106.4,930.8L1130.7,960.9M1096.3,930.9L1120.6,960.9M1096.3,943.3L1110.5,960.9M1096.3,955.8L1100.4,960.9" stroke="#000" stroke-width="1.8" fill="none"/><rect x="1096.31" y="930.85" width="69.65" height="30.06" fill="none" stroke="#000" stroke-width="1.7"/>
<text class="sb" transform="translate(1173.07,956.65) scale(0.7805,1)" font-size="34.5">LA80</text>
<rect x="1244.52" y="930.85" width="69.65" height="30.06" fill="#ffff00"/><path d="M1244.5,931.8L1245.3,930.8M1244.5,950.4L1260.2,930.8M1250.9,960.9L1275.1,930.8M1265.8,960.9L1290,930.8M1280.7,960.9L1304.8,930.8M1295.6,960.9L1314.2,937.8M1310.5,960.9L1314.2,956.3M1304,930.8L1314.2,943.5M1289.2,930.8L1313.3,960.9M1274.3,930.8L1298.4,960.9M1259.4,930.8L1283.5,960.9M1244.5,930.9L1268.7,960.9M1244.5,949.4L1253.8,960.9" stroke="#000" stroke-width="1.7" fill="none"/><rect x="1244.52" y="930.85" width="69.65" height="30.06" fill="none" stroke="#000" stroke-width="1.7"/>
<text class="sb" transform="translate(1320.67,956.65) scale(0.7805,1)" font-size="34.5">LA100</text>
<text class="sb" transform="translate(942.7,1006.5) scale(0.7846,1)" font-size="34.5">Injection timing:25<tspan font-size="20.7" dy="-18.8">0</tspan><tspan dy="18.8"> bTDC, Speed:1500 rpm, CR:17.5</tspan></text>
<text class="sb m" transform="translate(1292.8,1644.9) scale(0.804,1)" font-size="31">Load, %</text>
<text class="sb m" transform="translate(853.1,1236.42) rotate(-90) scale(1.0063,0.88)" font-size="31.1">CO<tspan font-size="17.42" dy="9.95">2</tspan><tspan dy="-9.95"> emission</tspan></text>
<text class="cp" transform="translate(1015,1700.6)" font-size="37.5">(d) Injection timing 25º bTDC.</text>
</g>
<g id="panel-e">
<path d="M538.05,1761.4 H1256.5 V2439.8 H538.05 M548.55,1760.1 V2441.1" fill="none" stroke="#000" stroke-width="2.6"/>
<text class="tk e" transform="translate(531.05,2446.1) scale(0.721,1)" font-size="28.5">0</text>
<text class="tk e" transform="translate(531.05,2349.19) scale(0.721,1)" font-size="28.5">500</text>
<text class="tk e" transform="translate(531.05,2252.27) scale(0.721,1)" font-size="28.5">1000</text>
<text class="tk e" transform="translate(531.05,2155.36) scale(0.721,1)" font-size="28.5">1500</text>
<text class="tk e" transform="translate(531.05,2058.44) scale(0.721,1)" font-size="28.5">2000</text>
<text class="tk e" transform="translate(531.05,1961.53) scale(0.721,1)" font-size="28.5">2500</text>
<text class="tk e" transform="translate(531.05,1864.61) scale(0.721,1)" font-size="28.5">3000</text>
<text class="tk e" transform="translate(531.05,1767.7) scale(0.721,1)" font-size="28.5">3500</text>
<text class="tk m" transform="translate(637.24,2481.5) scale(0.721,1)" font-size="28.5">25</text>
<text class="tk m" transform="translate(814.23,2481.5) scale(0.721,1)" font-size="28.5">50</text>
<text class="tk m" transform="translate(991.22,2481.5) scale(0.721,1)" font-size="28.5">75</text>
<text class="tk m" transform="translate(1168.21,2481.5) scale(0.721,1)" font-size="28.5">100</text>
<path d="M538.05,2342.89 H548.55 M538.05,2245.97 H548.55 M538.05,2149.06 H548.55 M538.05,2052.14 H548.55 M538.05,1955.23 H548.55 M538.05,1858.31 H548.55 M637.24,2439.8 V2453.2 M814.23,2439.8 V2453.2 M991.22,2439.8 V2453.2 M1168.21,2439.8 V2453.2" fill="none" stroke="#000" stroke-width="2.7"/>
<rect x="566.2" y="2063.4" width="23.65" height="376.4" fill="#ff0000"/><path d="M566.2,2064.4L567,2063.4M566.2,2073.2L573.8,2063.4M566.2,2081.9L580.6,2063.4M566.2,2090.7L587.4,2063.4M566.2,2099.4L589.9,2069M566.2,2108.2L589.9,2077.7M566.2,2116.9L589.9,2086.5M566.2,2125.7L589.9,2095.2M566.2,2134.4L589.9,2104M566.2,2143.2L589.9,2112.7M566.2,2151.9L589.9,2121.4M566.2,2160.6L589.9,2130.2M566.2,2169.4L589.9,2138.9M566.2,2178.1L589.9,2147.7M566.2,2186.9L589.9,2156.4M566.2,2195.6L589.9,2165.2M566.2,2204.4L589.9,2173.9M566.2,2213.1L589.9,2182.7M566.2,2221.9L589.9,2191.4M566.2,2230.6L589.9,2200.2M566.2,2239.4L589.9,2208.9M566.2,2248.1L589.9,2217.7M566.2,2256.9L589.9,2226.4M566.2,2265.6L589.9,2235.2M566.2,2274.4L589.9,2243.9M566.2,2283.1L589.9,2252.7M566.2,2291.9L589.9,2261.4M566.2,2300.6L589.9,2270.2M566.2,2309.4L589.9,2278.9M566.2,2318.1L589.9,2287.7M566.2,2326.9L589.9,2296.4M566.2,2335.6L589.9,2305.2M566.2,2344.4L589.9,2313.9M566.2,2353.1L589.9,2322.7M566.2,2361.9L589.9,2331.4M566.2,2370.6L589.9,2340.2M566.2,2379.4L589.9,2348.9M566.2,2388.1L589.9,2357.7M566.2,2396.9L589.9,2366.4M566.2,2405.6L589.9,2375.2M566.2,2414.4L589.9,2383.9M566.2,2423.1L589.9,2392.7M566.2,2431.9L589.9,2401.4M566.8,2439.8L589.9,2410.1M573.6,2439.8L589.9,2418.9M580.4,2439.8L589.9,2427.6M587.2,2439.8L589.9,2436.4" stroke="#000" stroke-width="1.8" fill="none"/><rect x="566.2" y="2063.4" width="23.65" height="376.4" fill="none" stroke="#000" stroke-width="1.6"/>
<rect x="589.85" y="2059.1" width="23.65" height="380.7" fill="#00ff00"/><path d="M589.9,2060.1L590.6,2059.1M589.9,2072.7L600.5,2059.1M589.9,2085.2L610.4,2059.1M589.9,2097.8L613.5,2067.7M589.9,2110.4L613.5,2080.2M589.9,2122.9L613.5,2092.8M589.9,2135.5L613.5,2105.4M589.9,2148.1L613.5,2117.9M589.9,2160.7L613.5,2130.5M589.9,2173.2L613.5,2143.1M589.9,2185.8L613.5,2155.7M589.9,2198.4L613.5,2168.2M589.9,2210.9L613.5,2180.8M589.9,2223.5L613.5,2193.4M589.9,2236.1L613.5,2205.9M589.9,2248.6L613.5,2218.5M589.9,2261.2L613.5,2231.1M589.9,2273.8L613.5,2243.6M589.9,2286.3L613.5,2256.2M589.9,2298.9L613.5,2268.8M589.9,2311.5L613.5,2281.3M589.9,2324L613.5,2293.9M589.9,2336.6L613.5,2306.5M589.9,2349.2L613.5,2319M589.9,2361.7L613.5,2331.6M589.9,2374.3L613.5,2344.2M589.9,2386.9L613.5,2356.7M589.9,2399.4L613.5,2369.3M589.9,2412L613.5,2381.9M589.9,2424.6L613.5,2394.4M589.9,2437.2L613.5,2407M597.6,2439.8L613.5,2419.6M607.5,2439.8L613.5,2432.2M609.6,2059.1L613.5,2064.1M599.7,2059.1L613.5,2076.7M589.9,2059.1L613.5,2089.2M589.9,2071.7L613.5,2101.8M589.9,2084.2L613.5,2114.4M589.9,2096.8L613.5,2126.9M589.9,2109.4L613.5,2139.5M589.9,2121.9L613.5,2152.1M589.9,2134.5L613.5,2164.6M589.9,2147.1L613.5,2177.2M589.9,2159.6L613.5,2189.8M589.9,2172.2L613.5,2202.3M589.9,2184.8L613.5,2214.9M589.9,2197.3L613.5,2227.5M589.9,2209.9L613.5,2240M589.9,2222.5L613.5,2252.6M589.9,2235L613.5,2265.2M589.9,2247.6L613.5,2277.7M589.9,2260.2L613.5,2290.3M589.9,2272.7L613.5,2302.9M589.9,2285.3L613.5,2315.5M589.9,2297.9L613.5,2328M589.9,2310.5L613.5,2340.6M589.9,2323L613.5,2353.2M589.9,2335.6L613.5,2365.7M589.9,2348.2L613.5,2378.3M589.9,2360.7L613.5,2390.9M589.9,2373.3L613.5,2403.4M589.9,2385.9L613.5,2416M589.9,2398.4L613.5,2428.6M589.9,2411L612.5,2439.8M589.9,2423.6L602.6,2439.8M589.9,2436.1L592.7,2439.8" stroke="#000" stroke-width="1.7" fill="none"/><rect x="589.85" y="2059.1" width="23.65" height="380.7" fill="none" stroke="#000" stroke-width="1.6"/>
<rect x="613.5" y="2034.1" width="23.65" height="405.7" fill="#0000ff"/><path d="M624.2,2034.1V2439.8M634.5,2034.1V2439.8M613.5,2034.6H637.1M613.5,2047.9H637.1M613.5,2061.2H637.1M613.5,2074.6H637.1M613.5,2087.9H637.1M613.5,2101.2H637.1M613.5,2114.5H637.1M613.5,2127.9H637.1M613.5,2141.2H637.1M613.5,2154.5H637.1M613.5,2167.8H637.1M613.5,2181.2H637.1M613.5,2194.5H637.1M613.5,2207.8H637.1M613.5,2221.1H637.1M613.5,2234.4H637.1M613.5,2247.8H637.1M613.5,2261.1H637.1M613.5,2274.4H637.1M613.5,2287.7H637.1M613.5,2301.1H637.1M613.5,2314.4H637.1M613.5,2327.7H637.1M613.5,2341H637.1M613.5,2354.3H637.1M613.5,2367.7H637.1M613.5,2381H637.1M613.5,2394.3H637.1M613.5,2407.6H637.1M613.5,2421H637.1M613.5,2434.3H637.1" stroke="#000" stroke-width="1.6" fill="none"/><rect x="613.5" y="2034.1" width="23.65" height="405.7" fill="none" stroke="#000" stroke-width="1.6"/>
<rect x="637.15" y="2013.1" width="23.65" height="426.7" fill="#00ffff"/><path d="M644.5,2013.1V2439.8M651.5,2013.1V2439.8M658.4,2013.1V2439.8" stroke="#000" stroke-width="1.6" fill="none"/><rect x="637.15" y="2013.1" width="23.65" height="426.7" fill="none" stroke="#000" stroke-width="1.6"/>
<rect x="660.8" y="1976.4" width="23.65" height="463.4" fill="#ff00ff"/><path d="M680.9,1976.4L684.5,1980.9M670.8,1976.4L684.5,1993.4M660.8,1976.4L684.5,2006M660.8,1989L684.5,2018.6M660.8,2001.5L684.5,2031.1M660.8,2014.1L684.5,2043.7M660.8,2026.7L684.5,2056.3M660.8,2039.2L684.5,2068.8M660.8,2051.8L684.5,2081.4M660.8,2064.4L684.5,2094M660.8,2076.9L684.5,2106.5M660.8,2089.5L684.5,2119.1M660.8,2102.1L684.5,2131.7M660.8,2114.6L684.5,2144.2M660.8,2127.2L684.5,2156.8M660.8,2139.8L684.5,2169.4M660.8,2152.4L684.5,2181.9M660.8,2164.9L684.5,2194.5M660.8,2177.5L684.5,2207.1M660.8,2190.1L684.5,2219.7M660.8,2202.6L684.5,2232.2M660.8,2215.2L684.5,2244.8M660.8,2227.8L684.5,2257.4M660.8,2240.3L684.5,2269.9M660.8,2252.9L684.5,2282.5M660.8,2265.5L684.5,2295.1M660.8,2278L684.5,2307.6M660.8,2290.6L684.5,2320.2M660.8,2303.2L684.5,2332.8M660.8,2315.7L684.5,2345.3M660.8,2328.3L684.5,2357.9M660.8,2340.9L684.5,2370.5M660.8,2353.4L684.5,2383M660.8,2366L684.5,2395.6M660.8,2378.6L684.5,2408.2M660.8,2391.1L684.5,2420.7M660.8,2403.7L684.5,2433.3M660.8,2416.3L679.6,2439.8M660.8,2428.8L669.6,2439.8" stroke="#000" stroke-width="1.8" fill="none"/><rect x="660.8" y="1976.4" width="23.65" height="463.4" fill="none" stroke="#000" stroke-width="1.6"/>
<rect x="684.45" y="1947.8" width="23.65" height="492" fill="#ffff00"/><path d="M684.5,1948.8L685.2,1947.8M684.5,1967.5L700.1,1947.8M684.5,1986.1L708.1,1956.3M684.5,2004.8L708.1,1975M684.5,2023.5L708.1,1993.7M684.5,2042.1L708.1,2012.3M684.5,2060.8L708.1,2031M684.5,2079.5L708.1,2049.7M684.5,2098.1L708.1,2068.3M684.5,2116.8L708.1,2087M684.5,2135.5L708.1,2105.7M684.5,2154.1L708.1,2124.3M684.5,2172.8L708.1,2143M684.5,2191.5L708.1,2161.7M684.5,2210.1L708.1,2180.3M684.5,2228.8L708.1,2199M684.5,2247.5L708.1,2217.7M684.5,2266.1L708.1,2236.3M684.5,2284.8L708.1,2255M684.5,2303.5L708.1,2273.7M684.5,2322.1L708.1,2292.3M684.5,2340.8L708.1,2311M684.5,2359.5L708.1,2329.7M684.5,2378.1L708.1,2348.3M684.5,2396.8L708.1,2367M684.5,2415.5L708.1,2385.7M684.5,2434.1L708.1,2404.3M694.8,2439.8L708.1,2423M699.3,1947.8L708.1,1958.9M684.5,1947.8L708.1,1977.6M684.5,1966.5L708.1,1996.3M684.5,1985.1L708.1,2014.9M684.5,2003.8L708.1,2033.6M684.5,2022.5L708.1,2052.3M684.5,2041.1L708.1,2070.9M684.5,2059.8L708.1,2089.6M684.5,2078.5L708.1,2108.3M684.5,2097.1L708.1,2126.9M684.5,2115.8L708.1,2145.6M684.5,2134.5L708.1,2164.3M684.5,2153.1L708.1,2182.9M684.5,2171.8L708.1,2201.6M684.5,2190.5L708.1,2220.3M684.5,2209.1L708.1,2238.9M684.5,2227.8L708.1,2257.6M684.5,2246.5L708.1,2276.3M684.5,2265.1L708.1,2294.9M684.5,2283.8L708.1,2313.6M684.5,2302.5L708.1,2332.3M684.5,2321.1L708.1,2350.9M684.5,2339.8L708.1,2369.6M684.5,2358.5L708.1,2388.3M684.5,2377.1L708.1,2406.9M684.5,2395.8L708.1,2425.6M684.5,2414.5L704.5,2439.8M684.5,2433.1L689.7,2439.8" stroke="#000" stroke-width="1.7" fill="none"/><rect x="684.45" y="1947.8" width="23.65" height="492" fill="none" stroke="#000" stroke-width="1.6"/>
<rect x="743.1" y="2249.9" width="23.65" height="189.9" fill="#ff0000"/><path d="M743.1,2250.9L743.9,2249.9M743.1,2259.7L750.7,2249.9M743.1,2268.4L757.5,2249.9M743.1,2277.2L764.3,2249.9M743.1,2285.9L766.7,2255.5M743.1,2294.7L766.7,2264.2M743.1,2303.4L766.7,2273M743.1,2312.2L766.7,2281.7M743.1,2320.9L766.7,2290.5M743.1,2329.7L766.7,2299.2M743.1,2338.4L766.7,2307.9M743.1,2347.1L766.7,2316.7M743.1,2355.9L766.7,2325.4M743.1,2364.6L766.7,2334.2M743.1,2373.4L766.7,2342.9M743.1,2382.1L766.7,2351.7M743.1,2390.9L766.7,2360.4M743.1,2399.6L766.7,2369.2M743.1,2408.4L766.7,2377.9M743.1,2417.1L766.7,2386.7M743.1,2425.9L766.7,2395.4M743.1,2434.6L766.7,2404.2M745.9,2439.8L766.7,2412.9M752.7,2439.8L766.7,2421.7M759.5,2439.8L766.7,2430.4M766.3,2439.8L766.7,2439.2" stroke="#000" stroke-width="1.8" fill="none"/><rect x="743.1" y="2249.9" width="23.65" height="189.9" fill="none" stroke="#000" stroke-width="1.6"/>
<rect x="766.75" y="2247.9" width="23.65" height="191.9" fill="#00ff00"/><path d="M766.7,2248.9L767.5,2247.9M766.7,2261.5L777.4,2247.9M766.7,2274L787.3,2247.9M766.7,2286.6L790.4,2256.5M766.7,2299.2L790.4,2269M766.7,2311.7L790.4,2281.6M766.7,2324.3L790.4,2294.2M766.7,2336.9L790.4,2306.7M766.7,2349.5L790.4,2319.3M766.7,2362L790.4,2331.9M766.7,2374.6L790.4,2344.5M766.7,2387.2L790.4,2357M766.7,2399.7L790.4,2369.6M766.7,2412.3L790.4,2382.2M766.7,2424.9L790.4,2394.7M766.7,2437.4L790.4,2407.3M774.8,2439.8L790.4,2419.9M784.6,2439.8L790.4,2432.4M786.5,2247.9L790.4,2252.9M776.6,2247.9L790.4,2265.5M766.8,2247.9L790.4,2278M766.7,2260.5L790.4,2290.6M766.7,2273L790.4,2303.2M766.7,2285.6L790.4,2315.7M766.7,2298.2L790.4,2328.3M766.7,2310.7L790.4,2340.9M766.7,2323.3L790.4,2353.4M766.7,2335.9L790.4,2366M766.7,2348.4L790.4,2378.6M766.7,2361L790.4,2391.1M766.7,2373.6L790.4,2403.7M766.7,2386.1L790.4,2416.3M766.7,2398.7L790.4,2428.8M766.7,2411.3L789.1,2439.8M766.7,2423.8L779.3,2439.8M766.7,2436.4L769.4,2439.8" stroke="#000" stroke-width="1.7" fill="none"/><rect x="766.75" y="2247.9" width="23.65" height="191.9" fill="none" stroke="#000" stroke-width="1.6"/>
<rect x="790.4" y="2246.2" width="23.65" height="193.6" fill="#0000ff"/><path d="M801.1,2246.2V2439.8M811.4,2246.2V2439.8M790.4,2246.7H814M790.4,2260H814M790.4,2273.3H814M790.4,2286.7H814M790.4,2300H814M790.4,2313.3H814M790.4,2326.6H814M790.4,2340H814M790.4,2353.3H814M790.4,2366.6H814M790.4,2379.9H814M790.4,2393.3H814M790.4,2406.6H814M790.4,2419.9H814M790.4,2433.2H814" stroke="#000" stroke-width="1.6" fill="none"/><rect x="790.4" y="2246.2" width="23.65" height="193.6" fill="none" stroke="#000" stroke-width="1.6"/>
<rect x="814.05" y="2225.6" width="23.65" height="214.2" fill="#00ffff"/><path d="M821.4,2225.6V2439.8M828.4,2225.6V2439.8M835.3,2225.6V2439.8" stroke="#000" stroke-width="1.6" fill="none"/><rect x="814.05" y="2225.6" width="23.65" height="214.2" fill="none" stroke="#000" stroke-width="1.6"/>
<rect x="837.7" y="2223.8" width="23.65" height="216" fill="#ff00ff"/><path d="M857.8,2223.8L861.3,2228.3M847.7,2223.8L861.3,2240.8M837.7,2223.8L861.3,2253.4M837.7,2236.4L861.3,2266M837.7,2248.9L861.3,2278.5M837.7,2261.5L861.3,2291.1M837.7,2274.1L861.3,2303.7M837.7,2286.6L861.3,2316.2M837.7,2299.2L861.3,2328.8M837.7,2311.8L861.3,2341.4M837.7,2324.3L861.3,2353.9M837.7,2336.9L861.3,2366.5M837.7,2349.5L861.3,2379.1M837.7,2362L861.3,2391.6M837.7,2374.6L861.3,2404.2M837.7,2387.2L861.3,2416.8M837.7,2399.8L861.3,2429.3M837.7,2412.3L859.7,2439.8M837.7,2424.9L849.6,2439.8M837.7,2437.5L839.6,2439.8" stroke="#000" stroke-width="1.8" fill="none"/><rect x="837.7" y="2223.8" width="23.65" height="216" fill="none" stroke="#000" stroke-width="1.6"/>
<rect x="861.35" y="2200.8" width="23.65" height="239" fill="#ffff00"/><path d="M861.3,2201.8L862.1,2200.8M861.3,2220.5L877,2200.8M861.3,2239.1L885,2209.3M861.3,2257.8L885,2228M861.3,2276.5L885,2246.7M861.3,2295.1L885,2265.3M861.3,2313.8L885,2284M861.3,2332.5L885,2302.7M861.3,2351.1L885,2321.3M861.3,2369.8L885,2340M861.3,2388.5L885,2358.7M861.3,2407.1L885,2377.3M861.3,2425.8L885,2396M865.1,2439.8L885,2414.7M879.9,2439.8L885,2433.3M876.2,2200.8L885,2211.9M861.4,2200.8L885,2230.6M861.3,2219.5L885,2249.3M861.3,2238.1L885,2267.9M861.3,2256.8L885,2286.6M861.3,2275.5L885,2305.3M861.3,2294.1L885,2323.9M861.3,2312.8L885,2342.6M861.3,2331.5L885,2361.3M861.3,2350.1L885,2379.9M861.3,2368.8L885,2398.6M861.3,2387.5L885,2417.3M861.3,2406.1L885,2435.9M861.3,2424.8L873.3,2439.8" stroke="#000" stroke-width="1.7" fill="none"/><rect x="861.35" y="2200.8" width="23.65" height="239" fill="none" stroke="#000" stroke-width="1.6"/>
<rect x="920.1" y="2272.9" width="23.65" height="166.9" fill="#ff0000"/><path d="M920.1,2273.9L920.9,2272.9M920.1,2282.7L927.7,2272.9M920.1,2291.4L934.5,2272.9M920.1,2300.2L941.3,2272.9M920.1,2308.9L943.7,2278.5M920.1,2317.7L943.7,2287.2M920.1,2326.4L943.7,2296M920.1,2335.2L943.7,2304.7M920.1,2343.9L943.7,2313.5M920.1,2352.7L943.7,2322.2M920.1,2361.4L943.7,2330.9M920.1,2370.1L943.7,2339.7M920.1,2378.9L943.7,2348.4M920.1,2387.6L943.7,2357.2M920.1,2396.4L943.7,2365.9M920.1,2405.1L943.7,2374.7M920.1,2413.9L943.7,2383.4M920.1,2422.6L943.7,2392.2M920.1,2431.4L943.7,2400.9M920.4,2439.8L943.7,2409.7M927.2,2439.8L943.7,2418.4M934,2439.8L943.7,2427.2M940.7,2439.8L943.7,2435.9" stroke="#000" stroke-width="1.8" fill="none"/><rect x="920.1" y="2272.9" width="23.65" height="166.9" fill="none" stroke="#000" stroke-width="1.6"/>
<rect x="943.75" y="2271" width="23.65" height="168.8" fill="#00ff00"/><path d="M943.7,2272L944.5,2271M943.7,2284.6L954.4,2271M943.7,2297.1L964.3,2271M943.7,2309.7L967.4,2279.6M943.7,2322.3L967.4,2292.1M943.7,2334.8L967.4,2304.7M943.7,2347.4L967.4,2317.3M943.7,2360L967.4,2329.8M943.7,2372.6L967.4,2342.4M943.7,2385.1L967.4,2355M943.7,2397.7L967.4,2367.6M943.7,2410.3L967.4,2380.1M943.7,2422.8L967.4,2392.7M943.7,2435.4L967.4,2405.3M950.2,2439.8L967.4,2417.8M960,2439.8L967.4,2430.4M963.5,2271L967.4,2276M953.6,2271L967.4,2288.6M943.8,2271L967.4,2301.1M943.7,2283.6L967.4,2313.7M943.7,2296.1L967.4,2326.3M943.7,2308.7L967.4,2338.8M943.7,2321.3L967.4,2351.4M943.7,2333.8L967.4,2364M943.7,2346.4L967.4,2376.5M943.7,2359L967.4,2389.1M943.7,2371.5L967.4,2401.7M943.7,2384.1L967.4,2414.2M943.7,2396.7L967.4,2426.8M943.7,2409.2L967.4,2439.4M943.7,2421.8L957.9,2439.8M943.7,2434.4L948,2439.8" stroke="#000" stroke-width="1.7" fill="none"/><rect x="943.75" y="2271" width="23.65" height="168.8" fill="none" stroke="#000" stroke-width="1.6"/>
<rect x="967.4" y="2270.5" width="23.65" height="169.3" fill="#0000ff"/><path d="M978.1,2270.5V2439.8M988.4,2270.5V2439.8M967.4,2271H991M967.4,2284.3H991M967.4,2297.6H991M967.4,2311H991M967.4,2324.3H991M967.4,2337.6H991M967.4,2350.9H991M967.4,2364.3H991M967.4,2377.6H991M967.4,2390.9H991M967.4,2404.2H991M967.4,2417.6H991M967.4,2430.9H991" stroke="#000" stroke-width="1.6" fill="none"/><rect x="967.4" y="2270.5" width="23.65" height="169.3" fill="none" stroke="#000" stroke-width="1.6"/>
<rect x="991.05" y="2269.9" width="23.65" height="169.9" fill="#00ffff"/><path d="M998.4,2269.9V2439.8M1005.4,2269.9V2439.8M1012.3,2269.9V2439.8" stroke="#000" stroke-width="1.6" fill="none"/><rect x="991.05" y="2269.9" width="23.65" height="169.9" fill="none" stroke="#000" stroke-width="1.6"/>
<rect x="1014.7" y="2267" width="23.65" height="172.8" fill="#ff00ff"/><path d="M1034.8,2267L1038.3,2271.5M1024.7,2267L1038.3,2284M1014.7,2267L1038.3,2296.6M1014.7,2279.6L1038.3,2309.2M1014.7,2292.1L1038.3,2321.7M1014.7,2304.7L1038.3,2334.3M1014.7,2317.3L1038.3,2346.9M1014.7,2329.8L1038.3,2359.4M1014.7,2342.4L1038.3,2372M1014.7,2355L1038.3,2384.6M1014.7,2367.5L1038.3,2397.1M1014.7,2380.1L1038.3,2409.7M1014.7,2392.7L1038.3,2422.3M1014.7,2405.2L1038.3,2434.8M1014.7,2417.8L1032.3,2439.8M1014.7,2430.4L1022.2,2439.8" stroke="#000" stroke-width="1.8" fill="none"/><rect x="1014.7" y="2267" width="23.65" height="172.8" fill="none" stroke="#000" stroke-width="1.6"/>
<rect x="1038.35" y="2249.5" width="23.65" height="190.3" fill="#ffff00"/><path d="M1038.3,2250.5L1039.1,2249.5M1038.3,2269.2L1054,2249.5M1038.3,2287.8L1062,2258M1038.3,2306.5L1062,2276.7M1038.3,2325.2L1062,2295.4M1038.3,2343.8L1062,2314M1038.3,2362.5L1062,2332.7M1038.3,2381.2L1062,2351.4M1038.3,2399.8L1062,2370M1038.3,2418.5L1062,2388.7M1038.3,2437.2L1062,2407.4M1051.1,2439.8L1062,2426M1053.2,2249.5L1062,2260.6M1038.4,2249.5L1062,2279.3M1038.3,2268.2L1062,2298M1038.3,2286.8L1062,2316.6M1038.3,2305.5L1062,2335.3M1038.3,2324.2L1062,2354M1038.3,2342.8L1062,2372.6M1038.3,2361.5L1062,2391.3M1038.3,2380.2L1062,2410M1038.3,2398.8L1062,2428.6M1038.3,2417.5L1056,2439.8M1038.3,2436.2L1041.2,2439.8" stroke="#000" stroke-width="1.7" fill="none"/><rect x="1038.35" y="2249.5" width="23.65" height="190.3" fill="none" stroke="#000" stroke-width="1.6"/>
<rect x="1097.1" y="2279.9" width="23.65" height="159.9" fill="#ff0000"/><path d="M1097.1,2280.9L1097.9,2279.9M1097.1,2289.7L1104.7,2279.9M1097.1,2298.4L1111.5,2279.9M1097.1,2307.2L1118.3,2279.9M1097.1,2315.9L1120.8,2285.5M1097.1,2324.7L1120.8,2294.2M1097.1,2333.4L1120.8,2303M1097.1,2342.2L1120.8,2311.7M1097.1,2350.9L1120.8,2320.5M1097.1,2359.7L1120.8,2329.2M1097.1,2368.4L1120.8,2337.9M1097.1,2377.1L1120.8,2346.7M1097.1,2385.9L1120.8,2355.4M1097.1,2394.6L1120.8,2364.2M1097.1,2403.4L1120.8,2372.9M1097.1,2412.1L1120.8,2381.7M1097.1,2420.9L1120.8,2390.4M1097.1,2429.6L1120.8,2399.2M1097.1,2438.4L1120.8,2407.9M1102.8,2439.8L1120.8,2416.7M1109.6,2439.8L1120.8,2425.4M1116.4,2439.8L1120.8,2434.2" stroke="#000" stroke-width="1.8" fill="none"/><rect x="1097.1" y="2279.9" width="23.65" height="159.9" fill="none" stroke="#000" stroke-width="1.6"/>
<rect x="1120.75" y="2277.4" width="23.65" height="162.4" fill="#00ff00"/><path d="M1120.8,2278.4L1121.5,2277.4M1120.8,2291L1131.4,2277.4M1120.8,2303.5L1141.3,2277.4M1120.8,2316.1L1144.4,2286M1120.8,2328.7L1144.4,2298.5M1120.8,2341.2L1144.4,2311.1M1120.8,2353.8L1144.4,2323.7M1120.8,2366.4L1144.4,2336.2M1120.8,2379L1144.4,2348.8M1120.8,2391.5L1144.4,2361.4M1120.8,2404.1L1144.4,2374M1120.8,2416.7L1144.4,2386.5M1120.8,2429.2L1144.4,2399.1M1122.3,2439.8L1144.4,2411.7M1132.2,2439.8L1144.4,2424.2M1142,2439.8L1144.4,2436.8M1140.5,2277.4L1144.4,2282.4M1130.6,2277.4L1144.4,2295M1120.8,2277.4L1144.4,2307.5M1120.8,2290L1144.4,2320.1M1120.8,2302.5L1144.4,2332.7M1120.8,2315.1L1144.4,2345.2M1120.8,2327.7L1144.4,2357.8M1120.8,2340.2L1144.4,2370.4M1120.8,2352.8L1144.4,2382.9M1120.8,2365.4L1144.4,2395.5M1120.8,2377.9L1144.4,2408.1M1120.8,2390.5L1144.4,2420.6M1120.8,2403.1L1144.4,2433.2M1120.8,2415.6L1139.7,2439.8M1120.8,2428.2L1129.8,2439.8" stroke="#000" stroke-width="1.7" fill="none"/><rect x="1120.75" y="2277.4" width="23.65" height="162.4" fill="none" stroke="#000" stroke-width="1.6"/>
<rect x="1144.4" y="2275.9" width="23.65" height="163.9" fill="#0000ff"/><path d="M1155.1,2275.9V2439.8M1165.4,2275.9V2439.8M1144.4,2276.4H1168M1144.4,2289.7H1168M1144.4,2303H1168M1144.4,2316.4H1168M1144.4,2329.7H1168M1144.4,2343H1168M1144.4,2356.3H1168M1144.4,2369.7H1168M1144.4,2383H1168M1144.4,2396.3H1168M1144.4,2409.6H1168M1144.4,2423H1168M1144.4,2436.3H1168" stroke="#000" stroke-width="1.6" fill="none"/><rect x="1144.4" y="2275.9" width="23.65" height="163.9" fill="none" stroke="#000" stroke-width="1.6"/>
<rect x="1168.05" y="2274.8" width="23.65" height="165" fill="#00ffff"/><path d="M1175.4,2274.8V2439.8M1182.4,2274.8V2439.8M1189.3,2274.8V2439.8" stroke="#000" stroke-width="1.6" fill="none"/><rect x="1168.05" y="2274.8" width="23.65" height="165" fill="none" stroke="#000" stroke-width="1.6"/>
<rect x="1191.7" y="2272.7" width="23.65" height="167.1" fill="#ff00ff"/><path d="M1211.8,2272.7L1215.3,2277.2M1201.7,2272.7L1215.3,2289.7M1191.7,2272.7L1215.3,2302.3M1191.7,2285.3L1215.3,2314.9M1191.7,2297.8L1215.3,2327.4M1191.7,2310.4L1215.3,2340M1191.7,2323L1215.3,2352.6M1191.7,2335.5L1215.3,2365.1M1191.7,2348.1L1215.3,2377.7M1191.7,2360.7L1215.3,2390.3M1191.7,2373.2L1215.3,2402.8M1191.7,2385.8L1215.3,2415.4M1191.7,2398.4L1215.3,2428M1191.7,2410.9L1214.8,2439.8M1191.7,2423.5L1204.7,2439.8M1191.7,2436.1L1194.7,2439.8" stroke="#000" stroke-width="1.8" fill="none"/><rect x="1191.7" y="2272.7" width="23.65" height="167.1" fill="none" stroke="#000" stroke-width="1.6"/>
<rect x="1215.35" y="2257.1" width="23.65" height="182.7" fill="#ffff00"/><path d="M1215.3,2258.1L1216.1,2257.1M1215.3,2276.8L1231,2257.1M1215.3,2295.4L1239,2265.6M1215.3,2314.1L1239,2284.3M1215.3,2332.8L1239,2303M1215.3,2351.4L1239,2321.6M1215.3,2370.1L1239,2340.3M1215.3,2388.8L1239,2359M1215.3,2407.4L1239,2377.6M1215.3,2426.1L1239,2396.3M1219.3,2439.8L1239,2415M1234.1,2439.8L1239,2433.6M1230.2,2257.1L1239,2268.2M1215.4,2257.1L1239,2286.9M1215.3,2275.8L1239,2305.6M1215.3,2294.4L1239,2324.2M1215.3,2313.1L1239,2342.9M1215.3,2331.8L1239,2361.6M1215.3,2350.4L1239,2380.2M1215.3,2369.1L1239,2398.9M1215.3,2387.8L1239,2417.6M1215.3,2406.4L1239,2436.2M1215.3,2425.1L1227,2439.8" stroke="#000" stroke-width="1.7" fill="none"/><rect x="1215.35" y="2257.1" width="23.65" height="182.7" fill="none" stroke="#000" stroke-width="1.6"/>
<rect x="558.88" y="1779.7" width="69.34" height="30.29" fill="#ff0000"/><path d="M558.9,1780.7L559.7,1779.7M558.9,1789.5L566.5,1779.7M558.9,1798.2L573.3,1779.7M558.9,1807L580.1,1779.7M563.3,1810L586.8,1779.7M570.1,1810L593.6,1779.7M576.9,1810L600.4,1779.7M583.7,1810L607.2,1779.7M590.5,1810L614,1779.7M597.3,1810L620.8,1779.7M604.1,1810L627.6,1779.7M610.9,1810L628.2,1787.7M617.7,1810L628.2,1796.4M624.5,1810L628.2,1805.2" stroke="#000" stroke-width="1.8" fill="none"/><rect x="558.88" y="1779.7" width="69.34" height="30.29" fill="none" stroke="#000" stroke-width="1.7"/>
<text class="sb" transform="translate(642.87,1806) scale(0.7771,1)" font-size="34.5">B0</text>
<rect x="680.43" y="1779.7" width="69.34" height="30.29" fill="#00ff00"/><path d="M680.4,1780.7L681.2,1779.7M680.4,1793.3L691.1,1779.7M680.4,1805.8L700.9,1779.7M687,1810L710.8,1779.7M696.9,1810L720.7,1779.7M706.8,1810L730.5,1779.7M716.6,1810L740.4,1779.7M726.5,1810L749.8,1780.3M736.4,1810L749.8,1792.9M746.2,1810L749.8,1805.5M749.5,1779.7L749.8,1780.1M739.6,1779.7L749.8,1792.6M729.8,1779.7L749.8,1805.2M719.9,1779.7L743.7,1810M710,1779.7L733.8,1810M700.2,1779.7L723.9,1810M690.3,1779.7L714.1,1810M680.4,1779.7L704.2,1810M680.4,1792.3L694.3,1810M680.4,1804.8L684.5,1810" stroke="#000" stroke-width="1.7" fill="none"/><rect x="680.43" y="1779.7" width="69.34" height="30.29" fill="none" stroke="#000" stroke-width="1.7"/>
<text class="sb" transform="translate(756.74,1806) scale(0.7771,1)" font-size="34.5">LA20</text>
<rect x="827.78" y="1779.7" width="69.34" height="30.29" fill="#0000ff"/><path d="M838.5,1779.7V1810M848.8,1779.7V1810M859.1,1779.7V1810M869.5,1779.7V1810M879.8,1779.7V1810M890.1,1779.7V1810M827.8,1780.2H897.1M827.8,1793.5H897.1M827.8,1806.8H897.1" stroke="#000" stroke-width="1.6" fill="none"/><rect x="827.78" y="1779.7" width="69.34" height="30.29" fill="none" stroke="#000" stroke-width="1.7"/>
<text class="sb" transform="translate(903.99,1806) scale(0.7771,1)" font-size="34.5">LA40</text>
<rect x="558.88" y="1822.5" width="69.34" height="30.29" fill="#00ffff"/><path d="M566.2,1822.5V1852.8M573.2,1822.5V1852.8M580.1,1822.5V1852.8M587.1,1822.5V1852.8M594.1,1822.5V1852.8M601,1822.5V1852.8M608,1822.5V1852.8M614.9,1822.5V1852.8M621.9,1822.5V1852.8" stroke="#000" stroke-width="1.6" fill="none"/><rect x="558.88" y="1822.5" width="69.34" height="30.29" fill="none" stroke="#000" stroke-width="1.7"/>
<text class="sb" transform="translate(642.87,1848.3) scale(0.7771,1)" font-size="34.5">LA60</text>
<rect x="713.11" y="1822.5" width="69.34" height="30.29" fill="#ff00ff"/><path d="M773.4,1822.5L782.4,1833.9M763.3,1822.5L782.4,1846.4M753.3,1822.5L777.5,1852.8M743.2,1822.5L767.4,1852.8M733.2,1822.5L757.4,1852.8M723.1,1822.5L747.4,1852.8M713.1,1822.5L737.3,1852.8M713.1,1835.1L727.3,1852.8M713.1,1847.6L717.2,1852.8" stroke="#000" stroke-width="1.8" fill="none"/><rect x="713.11" y="1822.5" width="69.34" height="30.29" fill="none" stroke="#000" stroke-width="1.7"/>
<text class="sb" transform="translate(789.52,1848.3) scale(0.7771,1)" font-size="34.5">LA80</text>
<rect x="860.65" y="1822.5" width="69.34" height="30.29" fill="#ffff00"/><path d="M860.7,1823.5L861.4,1822.5M860.7,1842.2L876.3,1822.5M867,1852.8L891.1,1822.5M881.9,1852.8L905.9,1822.5M896.7,1852.8L920.7,1822.5M911.5,1852.8L930,1829.5M926.3,1852.8L930,1848.1M919.9,1822.5L930,1835.2M905.1,1822.5L929.1,1852.8M890.3,1822.5L914.3,1852.8M875.5,1822.5L899.5,1852.8M860.7,1822.5L884.7,1852.8M860.7,1841.2L869.9,1852.8" stroke="#000" stroke-width="1.7" fill="none"/><rect x="860.65" y="1822.5" width="69.34" height="30.29" fill="none" stroke="#000" stroke-width="1.7"/>
<text class="sb" transform="translate(936.47,1848.3) scale(0.7771,1)" font-size="34.5">LA100</text>
<text class="sb" transform="translate(558.95,1900.25) scale(0.7811,1)" font-size="34.5">Injection timing:27<tspan font-size="20.7" dy="-18.8">0</tspan><tspan dy="18.8"> bTDC, Speed:1500 rpm, CR:17.5</tspan></text>
<text class="sb m" transform="translate(903.8,2534) scale(0.804,1)" font-size="31">Load, %</text>
<text class="sb m" transform="translate(465.55,2124.3) rotate(-90) scale(1.0294,0.88)" font-size="31.1">CO<tspan font-size="17.42" dy="9.95">2</tspan><tspan dy="-9.95"> emission</tspan></text>
<text class="cp" transform="translate(618,2587.4)" font-size="37.5">(e) Injection timing 27º bTDC.</text>
</g>
</svg>
</body>
</html>
